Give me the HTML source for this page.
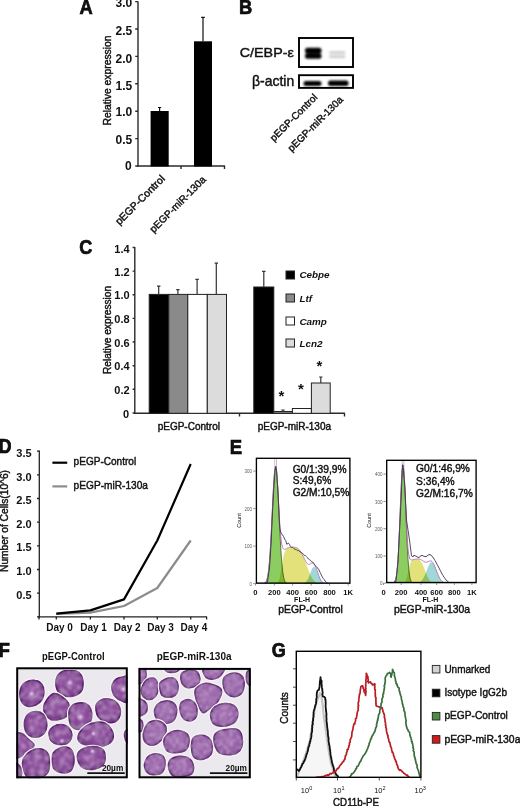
<!DOCTYPE html>
<html><head><meta charset="utf-8">
<style>
html,body{margin:0;padding:0;background:#fff;}
body{width:520px;height:806px;overflow:hidden;}
svg{display:block;font-family:"Liberation Sans",sans-serif;}
.t{font-family:"Liberation Sans",sans-serif;fill:#111;}
.r{stroke:#111;stroke-width:0.42px;}
.b{stroke:#000;stroke-width:0.7px;}
</style></head>
<body>
<svg width="520" height="806" viewBox="0 0 520 806">
<defs>
<filter id="blur1" x="-20%" y="-50%" width="140%" height="200%"><feGaussianBlur stdDeviation="0.9"/></filter>
<filter id="blur2" x="-20%" y="-50%" width="140%" height="200%"><feGaussianBlur stdDeviation="1.3"/></filter>
</defs>
<rect width="520" height="806" fill="#fff"/>

<!-- ================= PANEL A ================= -->
<g id="A">
<text class="t b" font-size="20.8" font-weight="bold" transform="translate(79.6 13.8) scale(0.88 1)">A</text>
<g stroke="#2a2a2a" stroke-width="1.4" fill="none">
<line x1="138" y1="1.5" x2="138" y2="166.7"/>
<line x1="137.3" y1="166" x2="225" y2="166"/>
<path d="M135.2 1.6H138M135.2 29H138M135.2 56.4H138M135.2 83.8H138M135.2 111.2H138M135.2 138.6H138M135.2 166H138"/>
<path d="M181 166V169M224.5 166V169"/>
</g>
<g class="t" font-size="12" font-weight="bold" text-anchor="end">
<text x="132.3" y="7">3.0</text>
<text x="132.3" y="34.5">2.5</text>
<text x="132.3" y="62.5">2.0</text>
<text x="132.3" y="89.5">1.5</text>
<text x="132.3" y="115.8">1.0</text>
<text x="132.3" y="143.8">0.5</text>
<text x="131.6" y="169.6">0</text>
</g>
<text class="t r" font-size="10.5" text-anchor="middle" transform="translate(111.3 80.5) rotate(-90)" textLength="90" lengthAdjust="spacingAndGlyphs">Relative expression</text>
<rect x="150.6" y="111" width="18.1" height="55.5" fill="#000"/>
<rect x="194" y="41.3" width="18" height="125.2" fill="#000"/>
<g stroke="#111" stroke-width="1.2">
<path d="M159.6 111V107.5M158 107.5H161.2"/>
<path d="M203 41.3V17.3M201.2 17.3H204.8"/>
</g>
<text class="t r" font-size="10.5" text-anchor="end" transform="translate(165.6 179.4) rotate(-45)">pEGP-Control</text>
<text class="t r" font-size="10.2" text-anchor="end" transform="translate(206.6 180.3) rotate(-45)">pEGP-miR-130a</text>
</g>

<!-- ================= PANEL B ================= -->
<g id="B">
<text class="t b" font-size="20.8" font-weight="bold" transform="translate(238.9 13.8) scale(0.88 1)">B</text>
<text class="t r" x="293.8" y="57.2" font-size="13" text-anchor="end" textLength="54" lengthAdjust="spacingAndGlyphs">C/EBP-ε</text>
<text class="t r" x="294.2" y="85.6" font-size="14.3" text-anchor="end" textLength="42.2" lengthAdjust="spacingAndGlyphs">β-actin</text>
<rect x="299" y="38" width="54" height="29" fill="#fff" stroke="#000" stroke-width="1.9"/>
<rect x="299" y="75.2" width="54" height="12.7" fill="#fff" stroke="#000" stroke-width="1.9"/>
<g filter="url(#blur1)">
<rect x="305" y="47.8" width="16.5" height="5.6" rx="2.5" fill="#000"/>
<rect x="305" y="53.2" width="16.5" height="5.6" rx="2.5" fill="#000"/>
<rect x="329" y="51" width="16.5" height="3" rx="1.5" fill="#d2d2d2"/>
<rect x="329" y="55" width="16.5" height="3.2" rx="1.5" fill="#d2d2d2"/>
<rect x="303.5" y="81" width="18" height="5" rx="2.5" fill="#000"/>
<rect x="328" y="80.5" width="20.5" height="5.5" rx="2.5" fill="#000"/>
</g>
<text class="t r" font-size="10" text-anchor="end" transform="translate(318 98) rotate(-45)">pEGP-Control</text>
<text class="t r" font-size="10" text-anchor="end" transform="translate(343.6 100.4) rotate(-45)">pEGP-miR-130a</text>
</g>

<!-- ================= PANEL C ================= -->
<g id="C">
<text class="t b" font-size="20.5" font-weight="bold" transform="translate(79.3 254.3) scale(0.88 1)">C</text>
<g stroke="#2a2a2a" stroke-width="1.4" fill="none">
<line x1="134.8" y1="247" x2="134.8" y2="414"/>
<line x1="134" y1="413.3" x2="345" y2="413.3"/>
<path d="M132.6 247.5H134.8M132.6 271.1H134.8M132.6 294.8H134.8M132.6 318.4H134.8M132.6 342H134.8M132.6 365.7H134.8M132.6 389.3H134.8M132.6 413H134.8"/>
<path d="M239.5 413.3V416.5M344.5 413.3V416.5"/>
</g>
<g class="t" font-size="11" font-weight="bold" text-anchor="end">
<text x="129.6" y="253">1.4</text>
<text x="129.6" y="275.7">1.2</text>
<text x="129.6" y="299.4">1.0</text>
<text x="129.6" y="323">0.8</text>
<text x="129.6" y="346.6">0.6</text>
<text x="129.6" y="370.3">0.4</text>
<text x="129.6" y="393.9">0.2</text>
<text x="129" y="417.6">0</text>
</g>
<text class="t r" font-size="10.2" text-anchor="middle" transform="translate(110.6 330) rotate(-90)" textLength="88" lengthAdjust="spacingAndGlyphs">Relative expression</text>
<g stroke="#222" stroke-width="1">
<rect x="149.2" y="294.4" width="19.6" height="118.9" fill="#000"/>
<rect x="168.8" y="294.4" width="19" height="118.9" fill="#8a8a8a"/>
<rect x="187.8" y="294.4" width="19.5" height="118.9" fill="#fff"/>
<rect x="207.3" y="294.4" width="19.2" height="118.9" fill="#dcdcdc"/>
<rect x="253.8" y="287" width="20" height="126.3" fill="#000"/>
<rect x="273.8" y="411.5" width="18.6" height="1.8" fill="#8a8a8a"/>
<rect x="292.4" y="408.5" width="19" height="4.8" fill="#fff"/>
<rect x="311.4" y="383" width="18.8" height="30.3" fill="#dcdcdc"/>
</g>
<g stroke="#333" stroke-width="1.2">
<path d="M158.7 294.4V286.2M157 286.2H160.4"/>
<path d="M177.9 294.4V289.6M176.2 289.6H179.6"/>
<path d="M197.1 294.4V279.4M195.4 279.4H198.8"/>
<path d="M216.3 294.4V263.1M214.6 263.1H218"/>
<path d="M263.8 287V271.3M262.1 271.3H265.5"/>
<path d="M283 411.5V410M281.3 410H284.7"/>
<path d="M320.8 383V377M319.1 377H322.5"/>
</g>
<g class="t" font-size="15" font-weight="bold" text-anchor="middle">
<text x="281.3" y="400.5">*</text>
<text x="300.8" y="394.2">*</text>
<text x="319.5" y="371.2">*</text>
</g>
<g stroke="#222" stroke-width="1">
<rect x="286" y="271" width="8.5" height="8" fill="#000"/>
<rect x="286" y="294" width="8.5" height="8" fill="#8a8a8a"/>
<rect x="286" y="317" width="8.5" height="8" fill="#fff"/>
<rect x="286" y="339" width="8.5" height="8" fill="#dcdcdc"/>
</g>
<g class="t" font-size="9.9" font-weight="bold" font-style="italic">
<text x="299.4" y="278.3">Cebpe</text>
<text x="299.4" y="301.6">Ltf</text>
<text x="299.4" y="324.6">Camp</text>
<text x="299.4" y="346.6">Lcn2</text>
</g>
<g class="t r" font-size="10">
<text x="157.7" y="430">pEGP-Control</text>
<text x="257.7" y="430">pEGP-miR-130a</text>
</g>
</g>

<defs>
<radialGradient id="cellg" cx="50%" cy="45%" r="62%">
<stop offset="0" stop-color="#9657a4"/>
<stop offset="0.65" stop-color="#854596"/>
<stop offset="1" stop-color="#6a2f80"/>
</radialGradient>
<radialGradient id="cellg2" cx="50%" cy="45%" r="62%">
<stop offset="0" stop-color="#a26cb0"/>
<stop offset="0.65" stop-color="#935aa5"/>
<stop offset="1" stop-color="#733d8a"/>
</radialGradient>
<radialGradient id="nuc">
<stop offset="0" stop-color="#ead6ee" stop-opacity="0.95"/>
<stop offset="0.45" stop-color="#d2b0da" stop-opacity="0.6"/>
<stop offset="1" stop-color="#b888c4" stop-opacity="0"/>
</radialGradient>
<filter id="mottle" x="0" y="0" width="100%" height="100%">
<feTurbulence type="fractalNoise" baseFrequency="0.2" numOctaves="3" seed="5" result="n"/>
<feColorMatrix in="n" type="matrix" values="0 0 0 0 0.80  0 0 0 0 0.62  0 0 0 0 0.84  1.05 0 0 0 -0.46" result="spots"/>
<feGaussianBlur in="spots" stdDeviation="0.9" result="spb"/>
<feComposite in="spb" in2="SourceGraphic" operator="in" result="sp"/>
<feMerge><feMergeNode in="SourceGraphic"/><feMergeNode in="sp"/></feMerge>
</filter>
<filter id="mottle2" x="0" y="0" width="100%" height="100%">
<feTurbulence type="fractalNoise" baseFrequency="0.3" numOctaves="3" seed="9" result="n"/>
<feColorMatrix in="n" type="matrix" values="0 0 0 0 0.82  0 0 0 0 0.66  0 0 0 0 0.86  1.2 0 0 0 -0.52" result="spots"/>
<feGaussianBlur in="spots" stdDeviation="0.8" result="spb"/>
<feComposite in="spb" in2="SourceGraphic" operator="in" result="sp"/>
<feMerge><feMergeNode in="SourceGraphic"/><feMergeNode in="sp"/></feMerge>
</filter>
</defs>
<!-- ================= PANEL D ================= -->
<g id="D">
<text class="t b" font-size="20.1" font-weight="bold" transform="translate(-1.5 452.6) scale(0.9 1)">D</text>
<g stroke="#222" stroke-width="1.3" fill="none">
<line x1="39.3" y1="450.4" x2="39.3" y2="617.4"/>
<line x1="38.6" y1="616.8" x2="207" y2="616.8"/>
<path d="M37 451.2H39.3M37 474.9H39.3M37 498.5H39.3M37 522.2H39.3M37 545.8H39.3M37 569.5H39.3M37 593.2H39.3M37 616.8H39.3"/>
<path d="M39 616.8V619.6M56.3 616.8V619.6M90.4 616.8V619.6M124 616.8V619.6M157.3 616.8V619.6M190.7 616.8V619.6M206.6 616.8V619.6"/>
</g>
<g class="t" font-size="11" font-weight="bold" text-anchor="end">
<text x="31.6" y="456.8">3.5</text>
<text x="31.6" y="480.5">3.0</text>
<text x="31.6" y="504.1">2.5</text>
<text x="31.6" y="527.8">2.0</text>
<text x="31.6" y="551.4">1.5</text>
<text x="31.6" y="575.1">1.0</text>
<text x="31.6" y="598.8">0.5</text>
</g>
<g class="t" font-size="10" font-weight="bold" text-anchor="middle">
<text x="59.5" y="631.2">Day 0</text>
<text x="93.6" y="631.2">Day 1</text>
<text x="127.2" y="631.2">Day 2</text>
<text x="160.5" y="631.2">Day 3</text>
<text x="193.9" y="631.2">Day 4</text>
</g>
<text class="t r" font-size="10.3" text-anchor="middle" transform="translate(8.3 521) rotate(-90)" textLength="102" lengthAdjust="spacingAndGlyphs">Number of Cells(10^6)</text>
<path d="M56.3 614L90.4 612.6 124 606 157.3 588 190.7 540.5" fill="none" stroke="#8c8c8c" stroke-width="2.2" stroke-linejoin="round"/>
<path d="M56.3 613.6L90.4 610.4 124 599.4 157.3 540.5 190.7 464" fill="none" stroke="#000" stroke-width="2.2" stroke-linejoin="round"/>
<line x1="52.4" y1="462.7" x2="67.2" y2="462.7" stroke="#000" stroke-width="2.2"/>
<line x1="52.4" y1="486.4" x2="67.2" y2="486.4" stroke="#8c8c8c" stroke-width="2.2"/>
<g class="t r" font-size="10.6">
<text x="73.6" y="465.3" textLength="62.6" lengthAdjust="spacingAndGlyphs">pEGP-Control</text>
<text x="73.6" y="489.1" textLength="74.4" lengthAdjust="spacingAndGlyphs">pEGP-miR-130a</text>
</g>
</g>
<!-- ================= PANEL E ================= -->
<g id="E">
<text class="t b" font-size="20.8" font-weight="bold" transform="translate(229.7 453.5) scale(0.89 1)">E</text>
<g>
<clipPath id="cp255"><rect x="255.7" y="457.6" width="94.9" height="126.2"/></clipPath>
<g clip-path="url(#cp255)">
<path d="M255.7 583.8L255.7 583.8 256.2 583.8 256.7 583.8 257.2 583.8 257.7 583.8 258.2 583.8 258.7 583.8 259.2 583.8 259.7 583.8 260.2 583.8 260.7 583.8 261.2 583.8 261.7 583.8 262.2 583.8 262.7 583.8 263.2 583.8 263.7 583.8 264.2 583.8 264.7 583.8 265.2 583.8 265.7 583.8 266.2 583.8 266.7 583.8 267.2 583.8 267.7 583.8 268.2 583.8 268.7 583.8 269.2 583.8 269.7 583.8 270.2 583.8 270.7 583.8 271.2 583.8 271.7 583.8 272.2 583.8 272.7 583.8 273.2 583.8 273.7 583.8 274.2 583.8 274.7 583.7 275.2 583.7 275.7 583.6 276.2 583.5 276.7 583.4 277.2 583.1 277.7 582.7 278.2 582.1 278.7 581.2 279.2 579.8 279.7 578 280.2 575.6 280.7 572.7 281.2 569.4 281.7 566.1 282.2 562.8 282.7 559.9 283.2 557.4 283.7 555.4 284.2 553.7 284.7 552.3 285.2 551.2 285.7 550.3 286.2 549.6 286.7 549.1 287.2 548.6 287.7 548.2 288.2 547.9 288.7 547.7 289.2 547.5 289.7 547.4 290.2 547.3 290.7 547.3 291.2 547.2 291.7 547.2 292.2 547.2 292.7 547.2 293.2 547.2 293.7 547.2 294.2 547.2 294.7 547.3 295.2 547.4 295.7 547.5 296.2 547.6 296.7 547.9 297.2 548.1 297.7 548.4 298.2 548.8 298.7 549.3 299.2 549.8 299.7 550.4 300.2 551.1 300.7 551.8 301.2 552.6 301.7 553.5 302.2 554.5 302.7 555.6 303.2 556.7 303.7 557.8 304.2 559 304.7 560.3 305.2 561.6 305.7 562.9 306.2 564.3 306.7 565.6 307.2 566.9 307.7 568.3 308.2 569.6 308.7 570.8 309.2 572.1 309.7 573.2 310.2 574.3 310.7 575.4 311.2 576.4 311.7 577.3 312.2 578.1 312.7 578.9 313.2 579.6 313.7 580.2 314.2 580.8 314.7 581.3 315.2 581.7 315.7 582.1 316.2 582.4 316.7 582.6 317.2 582.9 317.7 583.1 318.2 583.2 318.7 583.3 319.2 583.4 319.7 583.5 320.2 583.6 320.7 583.6 321.2 583.7 321.7 583.7 322.2 583.7 322.7 583.8 323.2 583.8 323.7 583.8 324.2 583.8 324.7 583.8 325.2 583.8 325.7 583.8 326.2 583.8 326.7 583.8 327.2 583.8 327.7 583.8 328.2 583.8 328.7 583.8 329.2 583.8 329.7 583.8 330.2 583.8 330.7 583.8 331.2 583.8 331.7 583.8 332.2 583.8 332.7 583.8 333.2 583.8 333.7 583.8 334.2 583.8 334.7 583.8 335.2 583.8 335.7 583.8 336.2 583.8 336.7 583.8 337.2 583.8 337.7 583.8 338.2 583.8 338.7 583.8 339.2 583.8 339.7 583.8 340.2 583.8 340.7 583.8 341.2 583.8 341.7 583.8 342.2 583.8 342.7 583.8 343.2 583.8 343.7 583.8 344.2 583.8 344.7 583.8 345.2 583.8 345.7 583.8 346.2 583.8 346.7 583.8 347.2 583.8 347.7 583.8 348.2 583.8 348.7 583.8 349.2 583.8 349.7 583.8 350.2 583.8 350.2 583.8Z" fill="#e3e27a" style="mix-blend-mode:multiply"/>
<path d="M255.7 583.8L255.7 583.8 256.2 583.8 256.7 583.8 257.2 583.8 257.7 583.8 258.2 583.8 258.7 583.8 259.2 583.8 259.7 583.8 260.2 583.8 260.7 583.8 261.2 583.8 261.7 583.8 262.2 583.8 262.7 583.8 263.2 583.8 263.7 583.8 264.2 583.8 264.7 583.8 265.2 583.8 265.7 583.8 266.2 583.8 266.7 583.8 267.2 583.8 267.7 583.8 268.2 583.8 268.7 583.8 269.2 583.8 269.7 583.8 270.2 583.8 270.7 583.8 271.2 583.8 271.7 583.8 272.2 583.8 272.7 583.8 273.2 583.8 273.7 583.8 274.2 583.8 274.7 583.8 275.2 583.8 275.7 583.8 276.2 583.8 276.7 583.8 277.2 583.8 277.7 583.8 278.2 583.8 278.7 583.8 279.2 583.8 279.7 583.8 280.2 583.8 280.7 583.8 281.2 583.8 281.7 583.8 282.2 583.8 282.7 583.8 283.2 583.8 283.7 583.8 284.2 583.8 284.7 583.8 285.2 583.8 285.7 583.8 286.2 583.8 286.7 583.8 287.2 583.8 287.7 583.8 288.2 583.8 288.7 583.8 289.2 583.8 289.7 583.8 290.2 583.8 290.7 583.8 291.2 583.8 291.7 583.8 292.2 583.8 292.7 583.8 293.2 583.8 293.7 583.8 294.2 583.8 294.7 583.8 295.2 583.8 295.7 583.8 296.2 583.8 296.7 583.8 297.2 583.8 297.7 583.8 298.2 583.8 298.7 583.8 299.2 583.8 299.7 583.8 300.2 583.8 300.7 583.8 301.2 583.7 301.7 583.7 302.2 583.7 302.7 583.6 303.2 583.5 303.7 583.4 304.2 583.2 304.7 582.9 305.2 582.6 305.7 582.2 306.2 581.7 306.7 581.1 307.2 580.4 307.7 579.5 308.2 578.5 308.7 577.4 309.2 576.1 309.7 574.8 310.2 573.5 310.7 572.1 311.2 570.8 311.7 569.6 312.2 568.6 312.7 567.8 313.2 567.2 313.7 566.9 314.2 566.8 314.7 567.1 315.2 567.6 315.7 568.4 316.2 569.4 316.7 570.6 317.2 571.9 317.7 573.2 318.2 574.6 318.7 575.9 319.2 577.1 319.7 578.3 320.2 579.3 320.7 580.2 321.2 581 321.7 581.6 322.2 582.1 322.7 582.6 323.2 582.9 323.7 583.1 324.2 583.3 324.7 583.5 325.2 583.6 325.7 583.7 326.2 583.7 326.7 583.7 327.2 583.8 327.7 583.8 328.2 583.8 328.7 583.8 329.2 583.8 329.7 583.8 330.2 583.8 330.7 583.8 331.2 583.8 331.7 583.8 332.2 583.8 332.7 583.8 333.2 583.8 333.7 583.8 334.2 583.8 334.7 583.8 335.2 583.8 335.7 583.8 336.2 583.8 336.7 583.8 337.2 583.8 337.7 583.8 338.2 583.8 338.7 583.8 339.2 583.8 339.7 583.8 340.2 583.8 340.7 583.8 341.2 583.8 341.7 583.8 342.2 583.8 342.7 583.8 343.2 583.8 343.7 583.8 344.2 583.8 344.7 583.8 345.2 583.8 345.7 583.8 346.2 583.8 346.7 583.8 347.2 583.8 347.7 583.8 348.2 583.8 348.7 583.8 349.2 583.8 349.7 583.8 350.2 583.8 350.2 583.8Z" fill="#9fd8d6" style="mix-blend-mode:multiply"/>
<path d="M255.7 583.8L255.7 583.8 256.2 583.8 256.7 583.8 257.2 583.8 257.7 583.8 258.2 583.8 258.7 583.8 259.2 583.8 259.7 583.8 260.2 583.8 260.7 583.8 261.2 583.8 261.7 583.8 262.2 583.8 262.7 583.7 263.2 583.7 263.7 583.6 264.2 583.4 264.7 583.2 265.2 582.9 265.7 582.3 266.2 581.5 266.7 580.4 267.2 578.8 267.7 576.5 268.2 573.6 268.7 569.8 269.2 564.9 269.7 559 270.2 551.9 270.7 543.7 271.2 534.4 271.7 524.4 272.2 513.9 272.7 503.4 273.2 493.3 273.7 484.2 274.2 476.6 274.7 470.9 275.2 467.6 275.7 466.9 276.2 468.7 276.7 472.9 277.2 479.4 277.7 487.7 278.2 497.2 278.7 507.6 279.2 518.1 279.7 528.5 280.2 538.2 280.7 547.1 281.2 554.9 281.7 561.5 282.2 567 282.7 571.4 283.2 574.9 283.7 577.5 284.2 579.5 284.7 580.9 285.2 581.9 285.7 582.6 286.2 583 286.7 583.3 287.2 583.5 287.7 583.6 288.2 583.7 288.7 583.7 289.2 583.8 289.7 583.8 290.2 583.8 290.7 583.8 291.2 583.8 291.7 583.8 292.2 583.8 292.7 583.8 293.2 583.8 293.7 583.8 294.2 583.8 294.7 583.8 295.2 583.8 295.7 583.8 296.2 583.8 296.7 583.8 297.2 583.8 297.7 583.8 298.2 583.8 298.7 583.8 299.2 583.8 299.7 583.8 300.2 583.8 300.7 583.8 301.2 583.8 301.7 583.8 302.2 583.8 302.7 583.8 303.2 583.8 303.7 583.8 304.2 583.8 304.7 583.8 305.2 583.8 305.7 583.8 306.2 583.8 306.7 583.8 307.2 583.8 307.7 583.8 308.2 583.8 308.7 583.8 309.2 583.8 309.7 583.8 310.2 583.8 310.7 583.8 311.2 583.8 311.7 583.8 312.2 583.8 312.7 583.8 313.2 583.8 313.7 583.8 314.2 583.8 314.7 583.8 315.2 583.8 315.7 583.8 316.2 583.8 316.7 583.8 317.2 583.8 317.7 583.8 318.2 583.8 318.7 583.8 319.2 583.8 319.7 583.8 320.2 583.8 320.7 583.8 321.2 583.8 321.7 583.8 322.2 583.8 322.7 583.8 323.2 583.8 323.7 583.8 324.2 583.8 324.7 583.8 325.2 583.8 325.7 583.8 326.2 583.8 326.7 583.8 327.2 583.8 327.7 583.8 328.2 583.8 328.7 583.8 329.2 583.8 329.7 583.8 330.2 583.8 330.7 583.8 331.2 583.8 331.7 583.8 332.2 583.8 332.7 583.8 333.2 583.8 333.7 583.8 334.2 583.8 334.7 583.8 335.2 583.8 335.7 583.8 336.2 583.8 336.7 583.8 337.2 583.8 337.7 583.8 338.2 583.8 338.7 583.8 339.2 583.8 339.7 583.8 340.2 583.8 340.7 583.8 341.2 583.8 341.7 583.8 342.2 583.8 342.7 583.8 343.2 583.8 343.7 583.8 344.2 583.8 344.7 583.8 345.2 583.8 345.7 583.8 346.2 583.8 346.7 583.8 347.2 583.8 347.7 583.8 348.2 583.8 348.7 583.8 349.2 583.8 349.7 583.8 350.2 583.8 350.2 583.8Z" fill="#8ccd62" stroke="#3d5a2a" stroke-width="0.8" style="mix-blend-mode:multiply"/>
<path d="M255.7 583.5L256.2 583.5 256.7 583.5 257.2 583.5 257.7 583.5 258.2 583.5 258.7 583.5 259.2 583.5 259.7 583.5 260.2 583.5 260.7 583.5 261.2 583.5 261.7 583.5 262.2 583.5 262.7 583.5 263.2 583.5 263.7 583.5 264.2 583.4 264.7 583.2 265.2 582.9 265.7 582.3 266.2 581.5 266.7 580.4 267.2 578.8 267.7 576.5 268.2 573.6 268.7 569.8 269.2 564.9 269.7 559 270.2 551.9 270.7 543.7 271.2 534.4 271.7 524.4 272.2 513.9 272.7 503.4 273.2 493.3 273.7 484.2 274.2 476.6 274.7 470.9 275.2 467.5 275.7 466.7 276.2 468.4 276.7 472.5 277.2 478.7 277.7 486.6 278.2 495.5 278.7 504.9 279.2 514.2 279.7 522.7 280.2 530 280.7 536 281.2 540.5 281.7 543.8 282.2 546 282.7 547.5 283.2 548.5 283.7 549.1 284.2 549.3 284.7 549.4 285.2 549.3 285.7 549.1 286.2 548.8 286.7 548.6 287.2 548.3 287.7 548.1 288.2 547.8 288.7 547.6 289.2 547.5 289.7 547.4 290.2 547.3 290.7 547.3 291.2 547.2 291.7 547.2 292.2 547.2 292.7 547.2 293.2 547.2 293.7 547.2 294.2 547.2 294.7 547.3 295.2 547.4 295.7 547.5 296.2 547.6 296.7 547.9 297.2 548.1 297.7 548.4 298.2 548.8 298.7 549.3 299.2 549.8 299.7 550.4 300.2 551 300.7 551.8 301.2 552.6 301.7 553.4 302.2 554.4 302.7 555.3 303.2 556.4 303.7 557.4 304.2 558.4 304.7 559.5 305.2 560.4 305.7 561.4 306.2 562.2 306.7 562.9 307.2 563.5 307.7 564 308.2 564.3 308.7 564.4 309.2 564.4 309.7 564.3 310.2 564 310.7 563.7 311.2 563.4 311.7 563.1 312.2 562.9 312.7 562.9 313.2 563 313.7 563.3 314.2 563.8 314.7 564.6 315.2 565.5 315.7 566.7 316.2 568 316.7 569.4 317.2 571 317.7 572.5 318.2 574 318.7 575.4 319.2 576.8 319.7 578 320.2 579.1 320.7 580.1 321.2 580.9 321.7 581.5 322.2 582.1 322.7 582.5 323.2 582.9 323.7 583.1 324.2 583.3 324.7 583.5 325.2 583.5 325.7 583.5 326.2 583.5 326.7 583.5 327.2 583.5 327.7 583.5 328.2 583.5 328.7 583.5 329.2 583.5 329.7 583.5 330.2 583.5 330.7 583.5 331.2 583.5 331.7 583.5 332.2 583.5 332.7 583.5 333.2 583.5 333.7 583.5 334.2 583.5 334.7 583.5 335.2 583.5 335.7 583.5 336.2 583.5 336.7 583.5 337.2 583.5 337.7 583.5 338.2 583.5 338.7 583.5 339.2 583.5 339.7 583.5 340.2 583.5 340.7 583.5 341.2 583.5 341.7 583.5 342.2 583.5 342.7 583.5 343.2 583.5 343.7 583.5 344.2 583.5 344.7 583.5 345.2 583.5 345.7 583.5 346.2 583.5 346.7 583.5 347.2 583.5 347.7 583.5 348.2 583.5 348.7 583.5 349.2 583.5 349.7 583.5 350.2 583.5" fill="none" stroke="#b46ab4" stroke-width="0.9"/>
<path d="M274.7 457.6V468.8M276.5 457.6V468.8" stroke="#c8a4bc" stroke-width="0.8"/>
<path d="M265 583.6L265.8 583.1 266.7 582.5 267.5 582 268.5 575 269.5 568 271 545 272.5 512 274 485 275 470.8 275.7 466.3 276.5 470 278 492 279.3 520 279.8 528.2 280.3 531.1 281.4 533.3 282.4 534.9 283.5 536.4 284.6 539 285.7 540.6 286.8 544.3 288.3 543.1 289.5 544.5 290.5 546.4 291.4 547.4 292.3 547.2 293.2 547.8 294 548.7 294.9 549.4 295.7 549.5 296.5 549.7 297.6 550.8 298.6 550.4 299.7 551.8 300.8 552.1 301.8 552.8 302.9 553.7 303.7 554.4 304.5 555.5 305.3 555.4 306.1 556.3 306.9 557.3 307.8 558 308.6 559.1 309.4 559.6 310.2 560.1 311 560.8 311.8 561.8 312.6 562 313.5 563.2 314.4 564.7 315.3 565.9 316.2 566.4 317.1 567.7 318 568.3 319.1 570 320.1 572.5 321.2 574.6 322.3 577.1 323.2 578.4 324.1 579.4 325 581 326.1 582 327.1 583.1 328.1 583.3 329 583.4 330 583.6" fill="none" stroke="#3a3a4a" stroke-width="0.9"/>
</g>
<rect x="256.4" y="458.3" width="93.5" height="124.8" fill="none" stroke="#000" stroke-width="1.35"/>
<g stroke="#444" stroke-width="0.6"><line x1="253.2" y1="471.1" x2="255.7" y2="471.1"/><line x1="253.2" y1="508.6" x2="255.7" y2="508.6"/><line x1="253.2" y1="546.1" x2="255.7" y2="546.1"/><line x1="253.2" y1="583.6" x2="255.7" y2="583.6"/></g>
<g class="t" font-size="6" fill="#555" text-anchor="end"><text x="252.1" y="473.2" fill="#5a5a5a" textLength="7.5" lengthAdjust="spacingAndGlyphs">300</text><text x="252.1" y="510.7" fill="#5a5a5a" textLength="7.5" lengthAdjust="spacingAndGlyphs">200</text><text x="252.1" y="548.2" fill="#5a5a5a" textLength="7.5" lengthAdjust="spacingAndGlyphs">100</text><text x="252.1" y="585.7" fill="#5a5a5a" textLength="2.5" lengthAdjust="spacingAndGlyphs">0</text></g>
<text class="t" font-size="5.5" fill="#666" text-anchor="middle" transform="translate(240.6 520.5) rotate(-90)">Count</text>
<g class="t" font-size="7.6" font-weight="bold" text-anchor="middle"><text x="255.4" y="595.4">0</text><text x="274.3" y="595.4">200</text><text x="292.6" y="595.4">400</text><text x="311.2" y="595.4">600</text><text x="329.5" y="595.4">800</text><text x="348.2" y="595.4">1K</text></g>
<g stroke="#444" stroke-width="0.6"><line x1="255.4" y1="583.8" x2="255.4" y2="585.6"/><line x1="274.3" y1="583.8" x2="274.3" y2="585.6"/><line x1="292.6" y1="583.8" x2="292.6" y2="585.6"/><line x1="311.2" y1="583.8" x2="311.2" y2="585.6"/><line x1="329.5" y1="583.8" x2="329.5" y2="585.6"/><line x1="348.2" y1="583.8" x2="348.2" y2="585.6"/></g>
<text class="t" font-size="7" font-weight="bold" text-anchor="middle" x="302.1" y="601.6">FL-H</text>
<g class="t r" font-size="10.2"><text x="292.7" y="472.5">G0/1:39,9%</text><text x="292.7" y="484.2">S:49,6%</text><text x="292.7" y="496.1">G2/M:10,5%</text></g>
<text class="t r" font-size="10.4" text-anchor="middle" x="310.6" y="613">pEGP-Control</text>
</g>
<g>
<clipPath id="cp386"><rect x="386" y="459.6" width="90.8" height="123.6"/></clipPath>
<g clip-path="url(#cp386)">
<path d="M386 583.2L386 583.2 386.5 583.2 387 583.2 387.5 583.2 388 583.2 388.5 583.2 389 583.2 389.5 583.2 390 583.2 390.5 583.2 391 583.2 391.5 583.2 392 583.2 392.5 583.2 393 583.2 393.5 583.2 394 583.2 394.5 583.2 395 583.2 395.5 583.2 396 583.2 396.5 583.2 397 583.2 397.5 583.2 398 583.2 398.5 583.2 399 583.2 399.5 583.2 400 583.2 400.5 583.2 401 583.2 401.5 583.2 402 583.2 402.5 583.1 403 583 403.5 582.9 404 582.7 404.5 582.4 405 582 405.5 581.2 406 580.2 406.5 578.8 407 576.9 407.5 574.8 408 572.4 408.5 570.1 409 567.9 409.5 566 410 564.4 410.5 563.1 411 562 411.5 561.2 412 560.6 412.5 560.1 413 559.8 413.5 559.6 414 559.4 414.5 559.3 415 559.3 415.5 559.2 416 559.2 416.5 559.2 417 559.2 417.5 559.3 418 559.4 418.5 559.5 419 559.8 419.5 560.1 420 560.5 420.5 561 421 561.7 421.5 562.4 422 563.3 422.5 564.3 423 565.4 423.5 566.5 424 567.8 424.5 569.1 425 570.4 425.5 571.8 426 573.1 426.5 574.4 427 575.6 427.5 576.7 428 577.8 428.5 578.8 429 579.6 429.5 580.3 430 581 430.5 581.5 431 581.9 431.5 582.2 432 582.5 432.5 582.7 433 582.9 433.5 583 434 583 434.5 583.1 435 583.1 435.5 583.2 436 583.2 436.5 583.2 437 583.2 437.5 583.2 438 583.2 438.5 583.2 439 583.2 439.5 583.2 440 583.2 440.5 583.2 441 583.2 441.5 583.2 442 583.2 442.5 583.2 443 583.2 443.5 583.2 444 583.2 444.5 583.2 445 583.2 445.5 583.2 446 583.2 446.5 583.2 447 583.2 447.5 583.2 448 583.2 448.5 583.2 449 583.2 449.5 583.2 450 583.2 450.5 583.2 451 583.2 451.5 583.2 452 583.2 452.5 583.2 453 583.2 453.5 583.2 454 583.2 454.5 583.2 455 583.2 455.5 583.2 456 583.2 456.5 583.2 457 583.2 457.5 583.2 458 583.2 458.5 583.2 459 583.2 459.5 583.2 460 583.2 460.5 583.2 461 583.2 461.5 583.2 462 583.2 462.5 583.2 463 583.2 463.5 583.2 464 583.2 464.5 583.2 465 583.2 465.5 583.2 466 583.2 466.5 583.2 467 583.2 467.5 583.2 468 583.2 468.5 583.2 469 583.2 469.5 583.2 470 583.2 470.5 583.2 471 583.2 471.5 583.2 472 583.2 472.5 583.2 473 583.2 473.5 583.2 474 583.2 474.5 583.2 475 583.2 475.5 583.2 476 583.2 476.5 583.2 476.5 583.2Z" fill="#e3e27a" style="mix-blend-mode:multiply"/>
<path d="M386 583.2L386 583.2 386.5 583.2 387 583.2 387.5 583.2 388 583.2 388.5 583.2 389 583.2 389.5 583.2 390 583.2 390.5 583.2 391 583.2 391.5 583.2 392 583.2 392.5 583.2 393 583.2 393.5 583.2 394 583.2 394.5 583.2 395 583.2 395.5 583.2 396 583.2 396.5 583.2 397 583.2 397.5 583.2 398 583.2 398.5 583.2 399 583.2 399.5 583.2 400 583.2 400.5 583.2 401 583.2 401.5 583.2 402 583.2 402.5 583.2 403 583.2 403.5 583.2 404 583.2 404.5 583.2 405 583.2 405.5 583.2 406 583.2 406.5 583.2 407 583.2 407.5 583.2 408 583.2 408.5 583.2 409 583.2 409.5 583.2 410 583.2 410.5 583.2 411 583.2 411.5 583.2 412 583.2 412.5 583.2 413 583.2 413.5 583.2 414 583.2 414.5 583.2 415 583.1 415.5 583.1 416 583.1 416.5 583 417 583 417.5 582.9 418 582.8 418.5 582.7 419 582.5 419.5 582.3 420 582 420.5 581.7 421 581.3 421.5 580.8 422 580.2 422.5 579.6 423 578.8 423.5 578 424 577 424.5 575.9 425 574.8 425.5 573.6 426 572.3 426.5 571 427 569.7 427.5 568.4 428 567.1 428.5 565.9 429 564.9 429.5 563.9 430 563.2 430.5 562.7 431 562.3 431.5 562.2 432 562.3 432.5 562.7 433 563.2 433.5 563.9 434 564.9 434.5 565.9 435 567.1 435.5 568.4 436 569.7 436.5 571 437 572.3 437.5 573.6 438 574.8 438.5 575.9 439 577 439.5 578 440 578.8 440.5 579.6 441 580.2 441.5 580.8 442 581.3 442.5 581.7 443 582 443.5 582.3 444 582.5 444.5 582.7 445 582.8 445.5 582.9 446 583 446.5 583 447 583.1 447.5 583.1 448 583.1 448.5 583.2 449 583.2 449.5 583.2 450 583.2 450.5 583.2 451 583.2 451.5 583.2 452 583.2 452.5 583.2 453 583.2 453.5 583.2 454 583.2 454.5 583.2 455 583.2 455.5 583.2 456 583.2 456.5 583.2 457 583.2 457.5 583.2 458 583.2 458.5 583.2 459 583.2 459.5 583.2 460 583.2 460.5 583.2 461 583.2 461.5 583.2 462 583.2 462.5 583.2 463 583.2 463.5 583.2 464 583.2 464.5 583.2 465 583.2 465.5 583.2 466 583.2 466.5 583.2 467 583.2 467.5 583.2 468 583.2 468.5 583.2 469 583.2 469.5 583.2 470 583.2 470.5 583.2 471 583.2 471.5 583.2 472 583.2 472.5 583.2 473 583.2 473.5 583.2 474 583.2 474.5 583.2 475 583.2 475.5 583.2 476 583.2 476.5 583.2 476.5 583.2Z" fill="#9fd8d6" style="mix-blend-mode:multiply"/>
<path d="M386 583.2L386 583.2 386.5 583.2 387 583.2 387.5 583.2 388 583.2 388.5 583.2 389 583.2 389.5 583.2 390 583.2 390.5 583.2 391 583.2 391.5 583.2 392 583.1 392.5 583.1 393 583 393.5 582.8 394 582.5 394.5 582 395 581.2 395.5 579.9 396 578 396.5 575.2 397 571.3 397.5 566.1 398 559.2 398.5 550.8 399 540.7 399.5 529.2 400 516.7 400.5 504 401 491.8 401.5 481 402 472.5 402.5 467.1 403 465.2 403.5 467.1 404 472.5 404.5 481 405 491.8 405.5 504 406 516.7 406.5 529.2 407 540.7 407.5 550.8 408 559.2 408.5 566.1 409 571.3 409.5 575.2 410 578 410.5 579.9 411 581.2 411.5 582 412 582.5 412.5 582.8 413 583 413.5 583.1 414 583.1 414.5 583.2 415 583.2 415.5 583.2 416 583.2 416.5 583.2 417 583.2 417.5 583.2 418 583.2 418.5 583.2 419 583.2 419.5 583.2 420 583.2 420.5 583.2 421 583.2 421.5 583.2 422 583.2 422.5 583.2 423 583.2 423.5 583.2 424 583.2 424.5 583.2 425 583.2 425.5 583.2 426 583.2 426.5 583.2 427 583.2 427.5 583.2 428 583.2 428.5 583.2 429 583.2 429.5 583.2 430 583.2 430.5 583.2 431 583.2 431.5 583.2 432 583.2 432.5 583.2 433 583.2 433.5 583.2 434 583.2 434.5 583.2 435 583.2 435.5 583.2 436 583.2 436.5 583.2 437 583.2 437.5 583.2 438 583.2 438.5 583.2 439 583.2 439.5 583.2 440 583.2 440.5 583.2 441 583.2 441.5 583.2 442 583.2 442.5 583.2 443 583.2 443.5 583.2 444 583.2 444.5 583.2 445 583.2 445.5 583.2 446 583.2 446.5 583.2 447 583.2 447.5 583.2 448 583.2 448.5 583.2 449 583.2 449.5 583.2 450 583.2 450.5 583.2 451 583.2 451.5 583.2 452 583.2 452.5 583.2 453 583.2 453.5 583.2 454 583.2 454.5 583.2 455 583.2 455.5 583.2 456 583.2 456.5 583.2 457 583.2 457.5 583.2 458 583.2 458.5 583.2 459 583.2 459.5 583.2 460 583.2 460.5 583.2 461 583.2 461.5 583.2 462 583.2 462.5 583.2 463 583.2 463.5 583.2 464 583.2 464.5 583.2 465 583.2 465.5 583.2 466 583.2 466.5 583.2 467 583.2 467.5 583.2 468 583.2 468.5 583.2 469 583.2 469.5 583.2 470 583.2 470.5 583.2 471 583.2 471.5 583.2 472 583.2 472.5 583.2 473 583.2 473.5 583.2 474 583.2 474.5 583.2 475 583.2 475.5 583.2 476 583.2 476.5 583.2 476.5 583.2Z" fill="#8ccd62" stroke="#3d5a2a" stroke-width="0.8" style="mix-blend-mode:multiply"/>
<path d="M386 582.9L386.5 582.9 387 582.9 387.5 582.9 388 582.9 388.5 582.9 389 582.9 389.5 582.9 390 582.9 390.5 582.9 391 582.9 391.5 582.9 392 582.9 392.5 582.9 393 582.9 393.5 582.8 394 582.5 394.5 582 395 581.2 395.5 579.9 396 578 396.5 575.2 397 571.3 397.5 566.1 398 559.2 398.5 550.8 399 540.7 399.5 529.2 400 516.7 400.5 504 401 491.8 401.5 480.9 402 472.4 402.5 467 403 465 403.5 466.8 404 472 404.5 480.2 405 490.5 405.5 502 406 513.7 406.5 524.7 407 534.4 407.5 542.4 408 548.5 408.5 553 409 556 409.5 558 410 559.2 410.5 559.8 411 560 411.5 560 412 559.9 412.5 559.8 413 559.6 413.5 559.5 414 559.3 414.5 559.3 415 559.2 415.5 559.1 416 559.1 416.5 559.1 417 559 417.5 559 418 559 418.5 559 419 559 419.5 559.2 420 559.3 420.5 559.5 421 559.7 421.5 560 422 560.3 422.5 560.6 423 561 423.5 561.3 424 561.6 424.5 561.8 425 562 425.5 562.1 426 562.2 426.5 562.2 427 562.1 427.5 561.9 428 561.7 428.5 561.5 429 561.3 429.5 561.1 430 561 430.5 560.9 431 561 431.5 561.2 432 561.6 432.5 562.2 433 562.9 433.5 563.7 434 564.7 434.5 565.8 435 567 435.5 568.3 436 569.6 436.5 571 437 572.3 437.5 573.6 438 574.8 438.5 575.9 439 577 439.5 578 440 578.8 440.5 579.6 441 580.2 441.5 580.8 442 581.3 442.5 581.7 443 582 443.5 582.3 444 582.5 444.5 582.7 445 582.8 445.5 582.9 446 582.9 446.5 582.9 447 582.9 447.5 582.9 448 582.9 448.5 582.9 449 582.9 449.5 582.9 450 582.9 450.5 582.9 451 582.9 451.5 582.9 452 582.9 452.5 582.9 453 582.9 453.5 582.9 454 582.9 454.5 582.9 455 582.9 455.5 582.9 456 582.9 456.5 582.9 457 582.9 457.5 582.9 458 582.9 458.5 582.9 459 582.9 459.5 582.9 460 582.9 460.5 582.9 461 582.9 461.5 582.9 462 582.9 462.5 582.9 463 582.9 463.5 582.9 464 582.9 464.5 582.9 465 582.9 465.5 582.9 466 582.9 466.5 582.9 467 582.9 467.5 582.9 468 582.9 468.5 582.9 469 582.9 469.5 582.9 470 582.9 470.5 582.9 471 582.9 471.5 582.9 472 582.9 472.5 582.9 473 582.9 473.5 582.9 474 582.9 474.5 582.9 475 582.9 475.5 582.9 476 582.9 476.5 582.9" fill="none" stroke="#b46ab4" stroke-width="0.9"/>
<path d="M402.1 459.6V467.2M403.9 459.6V467.2" stroke="#c8a4bc" stroke-width="0.8"/>
<path d="M393 583L394 582.3 395 581.7 396 581 397 571.5 398 562 399 542 400 522 401.5 490 402.2 470 402.7 464.7 403.4 470 404.2 480 405 490 406.5 520 408 530 409.5 540 410.5 548 411.5 555.9 413 557 414 555 415 555.8 416 556.2 417 556.8 418 557.3 419 557.8 420 556.3 421 555.8 422 555.3 423 555.8 424 556.4 425 556.5 426 556.7 427 556 428 555.2 429 554.6 430 554.7 431 555 432 556.5 433 557.1 434 558.9 435 560.7 436 562.2 437 564.3 438 566 439 568 440 570 441 571.9 442 574 443 575.4 444 577.1 445 578.5 446 580 447 580.8 448 581.7 449 582.5 450 582.7 451 582.8 452 583" fill="none" stroke="#3a3a4a" stroke-width="0.9"/>
</g>
<rect x="386.7" y="460.3" width="89.4" height="122.2" fill="none" stroke="#000" stroke-width="1.35"/>
<g stroke="#444" stroke-width="0.6"><line x1="383.5" y1="474.1" x2="386" y2="474.1"/><line x1="383.5" y1="501.4" x2="386" y2="501.4"/><line x1="383.5" y1="528.7" x2="386" y2="528.7"/><line x1="383.5" y1="556" x2="386" y2="556"/><line x1="383.5" y1="583.2" x2="386" y2="583.2"/></g>
<g class="t" font-size="6" fill="#555" text-anchor="end"><text x="382.4" y="476.2" fill="#5a5a5a" textLength="7.5" lengthAdjust="spacingAndGlyphs">400</text><text x="382.4" y="503.5" fill="#5a5a5a" textLength="7.5" lengthAdjust="spacingAndGlyphs">300</text><text x="382.4" y="530.8" fill="#5a5a5a" textLength="7.5" lengthAdjust="spacingAndGlyphs">200</text><text x="382.4" y="558.1" fill="#5a5a5a" textLength="7.5" lengthAdjust="spacingAndGlyphs">100</text><text x="382.4" y="585.3" fill="#5a5a5a" textLength="2.5" lengthAdjust="spacingAndGlyphs">0</text></g>
<text class="t" font-size="5.5" fill="#666" text-anchor="middle" transform="translate(371 520.5) rotate(-90)">Count</text>
<g class="t" font-size="7.6" font-weight="bold" text-anchor="middle"><text x="383.5" y="595.4">0</text><text x="401.2" y="595.4">200</text><text x="421" y="595.4">400</text><text x="436.7" y="595.4">600</text><text x="454.4" y="595.4">800</text><text x="471.9" y="595.4">1K</text></g>
<g stroke="#444" stroke-width="0.6"><line x1="383.5" y1="583.2" x2="383.5" y2="585"/><line x1="401.2" y1="583.2" x2="401.2" y2="585"/><line x1="421" y1="583.2" x2="421" y2="585"/><line x1="436.7" y1="583.2" x2="436.7" y2="585"/><line x1="454.4" y1="583.2" x2="454.4" y2="585"/><line x1="471.9" y1="583.2" x2="471.9" y2="585"/></g>
<text class="t" font-size="7" font-weight="bold" text-anchor="middle" x="430.4" y="601.6">FL-H</text>
<g class="t r" font-size="10.2"><text x="416.1" y="471.7">G0/1:46,9%</text><text x="416.1" y="484.6">S:36,4%</text><text x="416.1" y="497.1">G2/M:16,7%</text></g>
<text class="t r" font-size="10.4" text-anchor="middle" x="432" y="613">pEGP-miR-130a</text>
</g>
</g>
<!-- ================= PANEL F ================= -->
<g id="F">
<text class="t b" font-size="20.5" font-weight="bold" transform="translate(-1.55 657.2) scale(0.91 1)">F</text>
<text class="t" x="73.3" y="660" font-size="10" font-weight="bold" text-anchor="middle" textLength="62.5" lengthAdjust="spacingAndGlyphs">pEGP-Control</text>
<text class="t" x="194.1" y="660" font-size="10" font-weight="bold" text-anchor="middle" textLength="74.8" lengthAdjust="spacingAndGlyphs">pEGP-miR-130a</text>
<clipPath id="fc1"><rect x="16.2" y="667.3" width="111.6" height="111"/></clipPath>
<g clip-path="url(#fc1)">
<rect x="16.2" y="667.3" width="111.6" height="111" fill="#ebe9ee"/>
<g filter="url(#mottle)">
<g fill="#fdf5fd" stroke="#fdf5fd" stroke-width="3.8"><path d="M20.3 689.6C21 686.5 23 683.9 25.4 682.3C27.9 680.8 32 679.9 34.8 680.3C37.5 680.6 40.5 682.5 42 684.4C43.5 686.3 44 689.1 44 691.7C44 694.3 43.3 697.7 41.9 699.9C40.5 702.1 38.2 704 35.8 705.1C33.4 706.1 29.9 706.9 27.5 706.2C25.1 705.5 22.5 703.8 21.3 701C20.1 698.2 19.6 692.7 20.3 689.6Z"/></g>
<g fill="url(#cellg)" stroke="#561f66" stroke-width="1.5"><path d="M20.3 689.6C21 686.5 23 683.9 25.4 682.3C27.9 680.8 32 679.9 34.8 680.3C37.5 680.6 40.5 682.5 42 684.4C43.5 686.3 44 689.1 44 691.7C44 694.3 43.3 697.7 41.9 699.9C40.5 702.1 38.2 704 35.8 705.1C33.4 706.1 29.9 706.9 27.5 706.2C25.1 705.5 22.5 703.8 21.3 701C20.1 698.2 19.6 692.7 20.3 689.6Z"/></g>
<g fill="#fdf5fd" stroke="#fdf5fd" stroke-width="3.8"><path d="M56.8 677.5C57.8 674.6 60.2 672.5 63 671.3C65.8 670.1 70.5 669.8 73.4 670.3C76.3 670.8 79.1 672.2 80.7 674.4C82.3 676.7 83.1 680.8 83.1 683.8C83.1 686.7 82.5 690 80.7 692.1C78.9 694.2 75.3 695.7 72.4 696.2C69.4 696.7 65.6 696.4 63 695.2C60.4 694 57.8 691.9 56.8 689C55.7 686 55.7 680.5 56.8 677.5Z"/></g>
<g fill="url(#cellg)" stroke="#561f66" stroke-width="1.5"><path d="M56.8 677.5C57.8 674.6 60.2 672.5 63 671.3C65.8 670.1 70.5 669.8 73.4 670.3C76.3 670.8 79.1 672.2 80.7 674.4C82.3 676.7 83.1 680.8 83.1 683.8C83.1 686.7 82.5 690 80.7 692.1C78.9 694.2 75.3 695.7 72.4 696.2C69.4 696.7 65.6 696.4 63 695.2C60.4 694 57.8 691.9 56.8 689C55.7 686 55.7 680.5 56.8 677.5Z"/></g>
<g fill="#fdf5fd" stroke="#fdf5fd" stroke-width="3.8"><path d="M53.9 693.5C58 692.9 66.3 699.1 68.4 703C70.4 706.8 69.2 713.6 66.3 716.4C63.4 719.2 54.6 721.1 50.8 719.5C47 718 43 711.4 43.6 707.1C44.1 702.8 49.7 694.2 53.9 693.5Z"/></g>
<g fill="url(#cellg)" stroke="#561f66" stroke-width="1.5"><path d="M53.9 693.5C58 692.9 66.3 699.1 68.4 703C70.4 706.8 69.2 713.6 66.3 716.4C63.4 719.2 54.6 721.1 50.8 719.5C47 718 43 711.4 43.6 707.1C44.1 702.8 49.7 694.2 53.9 693.5Z"/></g>
<g fill="#fdf5fd" stroke="#fdf5fd" stroke-width="3.8"><path d="M69.9 708.7C71.1 706.4 73.5 704.3 76.1 703.5C78.7 702.6 83 702.6 85.4 703.4C87.8 704.3 89.5 706.2 90.6 708.6C91.6 711 92.1 715 91.6 717.9C91 720.8 89.7 724.3 87.5 726.2C85.3 728.1 80.9 729.5 78.2 729.4C75.4 729.2 72.5 727.3 70.9 725.2C69.4 723.1 69.2 719.6 69 716.9C68.8 714.1 68.8 710.9 69.9 708.7Z"/></g>
<g fill="url(#cellg)" stroke="#561f66" stroke-width="1.5"><path d="M69.9 708.7C71.1 706.4 73.5 704.3 76.1 703.5C78.7 702.6 83 702.6 85.4 703.4C87.8 704.3 89.5 706.2 90.6 708.6C91.6 711 92.1 715 91.6 717.9C91 720.8 89.7 724.3 87.5 726.2C85.3 728.1 80.9 729.5 78.2 729.4C75.4 729.2 72.5 727.3 70.9 725.2C69.4 723.1 69.2 719.6 69 716.9C68.8 714.1 68.8 710.9 69.9 708.7Z"/></g>
<g fill="#fdf5fd" stroke="#fdf5fd" stroke-width="3.8"><path d="M96.5 704.2C97.8 702.3 101 699.7 103.8 699C106.5 698.4 110.5 698.9 113 700.1C115.6 701.3 118.1 703.7 119.2 706.3C120.4 708.8 120.6 713 119.9 715.6C119.2 718.1 117.5 720.7 115.2 721.8C112.8 722.9 108.6 722.8 105.8 722.1C103.1 721.4 100.3 719.5 98.7 717.6C97 715.6 96.3 712.6 96 710.4C95.6 708.2 95.2 706.1 96.5 704.2Z"/></g>
<g fill="url(#cellg)" stroke="#561f66" stroke-width="1.5"><path d="M96.5 704.2C97.8 702.3 101 699.7 103.8 699C106.5 698.4 110.5 698.9 113 700.1C115.6 701.3 118.1 703.7 119.2 706.3C120.4 708.8 120.6 713 119.9 715.6C119.2 718.1 117.5 720.7 115.2 721.8C112.8 722.9 108.6 722.8 105.8 722.1C103.1 721.4 100.3 719.5 98.7 717.6C97 715.6 96.3 712.6 96 710.4C95.6 708.2 95.2 706.1 96.5 704.2Z"/></g>
<g fill="#fdf5fd" stroke="#fdf5fd" stroke-width="3.8"><path d="M112.1 685.3C112.6 683.3 114.1 680.5 116 679.1C117.8 677.7 121.1 677.1 123.1 676.9C125.2 676.7 127.5 673.9 128.4 677.9C129.2 681.8 129.6 697 128.4 700.8C127.2 704.6 123.3 701.4 121.1 700.6C118.8 699.9 116.4 697.9 115 696.3C113.6 694.7 113 693.1 112.5 691.2C112 689.4 111.5 687.3 112.1 685.3Z"/></g>
<g fill="url(#cellg)" stroke="#561f66" stroke-width="1.5"><path d="M112.1 685.3C112.6 683.3 114.1 680.5 116 679.1C117.8 677.7 121.1 677.1 123.1 676.9C125.2 676.7 127.5 673.9 128.4 677.9C129.2 681.8 129.6 697 128.4 700.8C127.2 704.6 123.3 701.4 121.1 700.6C118.8 699.9 116.4 697.9 115 696.3C113.6 694.7 113 693.1 112.5 691.2C112 689.4 111.5 687.3 112.1 685.3Z"/></g>
<g fill="#fdf5fd" stroke="#fdf5fd" stroke-width="3.8"><path d="M25.7 717.5C26.9 714.9 29.5 713.2 31.9 712.3C34.3 711.4 37.9 711.4 40.2 712.3C42.4 713.2 44.1 715.3 45.2 717.5C46.4 719.8 47 723.2 46.9 725.7C46.7 728.3 45.9 731 44.3 732.9C42.6 734.8 39.6 736.8 37.1 737.1C34.5 737.5 30.8 736.6 28.8 735.1C26.7 733.5 25.2 730.7 24.7 727.8C24.2 724.9 24.5 720.1 25.7 717.5Z"/></g>
<g fill="url(#cellg)" stroke="#561f66" stroke-width="1.5"><path d="M25.7 717.5C26.9 714.9 29.5 713.2 31.9 712.3C34.3 711.4 37.9 711.4 40.2 712.3C42.4 713.2 44.1 715.3 45.2 717.5C46.4 719.8 47 723.2 46.9 725.7C46.7 728.3 45.9 731 44.3 732.9C42.6 734.8 39.6 736.8 37.1 737.1C34.5 737.5 30.8 736.6 28.8 735.1C26.7 733.5 25.2 730.7 24.7 727.8C24.2 724.9 24.5 720.1 25.7 717.5Z"/></g>
<g fill="#fdf5fd" stroke="#fdf5fd" stroke-width="3.8"><path d="M50.1 729.6C51.3 728 53.7 725.8 56.2 725.1C58.8 724.5 62.9 724.4 65.4 725.5C67.9 726.6 70.2 729.4 71.2 731.6C72.2 733.8 72 736.8 71.2 738.8C70.4 740.9 68.8 743 66.5 743.9C64.1 744.8 59.8 744.7 57.3 744.2C54.7 743.7 52.5 742.4 51.1 740.8C49.8 739.2 49.3 736.6 49.1 734.7C48.9 732.8 48.9 731.2 50.1 729.6Z"/></g>
<g fill="url(#cellg)" stroke="#561f66" stroke-width="1.5"><path d="M50.1 729.6C51.3 728 53.7 725.8 56.2 725.1C58.8 724.5 62.9 724.4 65.4 725.5C67.9 726.6 70.2 729.4 71.2 731.6C72.2 733.8 72 736.8 71.2 738.8C70.4 740.9 68.8 743 66.5 743.9C64.1 744.8 59.8 744.7 57.3 744.2C54.7 743.7 52.5 742.4 51.1 740.8C49.8 739.2 49.3 736.6 49.1 734.7C48.9 732.8 48.9 731.2 50.1 729.6Z"/></g>
<g fill="#fdf5fd" stroke="#fdf5fd" stroke-width="3.8"><path d="M79 733.6C80.2 731.1 83.5 727.7 86.5 725.8C89.4 723.9 93.7 722.7 96.8 722.3C100 721.9 102.7 722.1 105.2 723.2C107.6 724.4 110.2 727 111.5 729.5C112.8 731.9 113.8 735.4 113.2 737.9C112.7 740.3 110.7 742.7 108.3 744.1C105.9 745.5 102.5 746.3 98.9 746.4C95.2 746.6 89.8 746 86.4 745.1C83.1 744.2 80.1 742.9 78.9 741C77.7 739.1 77.7 736.2 79 733.6Z"/></g>
<g fill="url(#cellg)" stroke="#561f66" stroke-width="1.5"><path d="M79 733.6C80.2 731.1 83.5 727.7 86.5 725.8C89.4 723.9 93.7 722.7 96.8 722.3C100 721.9 102.7 722.1 105.2 723.2C107.6 724.4 110.2 727 111.5 729.5C112.8 731.9 113.8 735.4 113.2 737.9C112.7 740.3 110.7 742.7 108.3 744.1C105.9 745.5 102.5 746.3 98.9 746.4C95.2 746.6 89.8 746 86.4 745.1C83.1 744.2 80.1 742.9 78.9 741C77.7 739.1 77.7 736.2 79 733.6Z"/></g>
<g fill="#fdf5fd" stroke="#fdf5fd" stroke-width="3.8"><path d="M13.4 735.3C14.8 731.3 19.4 732.8 21.8 733.4C24.2 733.9 25.7 736.9 27.8 738.8C29.8 740.6 33.7 742.7 34 744.7C34.4 746.7 31.5 749 29.8 750.7C28.1 752.4 26.6 753.7 23.8 754.8C21.1 755.9 15.1 760.5 13.4 757.2C11.6 754 12 739.3 13.4 735.3Z"/></g>
<g fill="url(#cellg)" stroke="#561f66" stroke-width="1.5"><path d="M13.4 735.3C14.8 731.3 19.4 732.8 21.8 733.4C24.2 733.9 25.7 736.9 27.8 738.8C29.8 740.6 33.7 742.7 34 744.7C34.4 746.7 31.5 749 29.8 750.7C28.1 752.4 26.6 753.7 23.8 754.8C21.1 755.9 15.1 760.5 13.4 757.2C11.6 754 12 739.3 13.4 735.3Z"/></g>
<g fill="#fdf5fd" stroke="#fdf5fd" stroke-width="3.8"><path d="M23.6 758.3C24.9 756.1 28 752.6 30.8 751C33.6 749.4 37.4 748.5 40.2 748.8C42.9 749.1 46 750.7 47.5 753C49.1 755.3 49.5 759.1 49.5 762.4C49.5 765.7 49.2 770.3 47.5 772.9C45.7 775.5 42.2 777.2 39.1 778.1C36 778.9 31.2 779.3 28.7 778.1C26.1 776.9 24.5 773 23.5 770.7C22.5 768.5 22.5 766.6 22.5 764.5C22.5 762.4 22.2 760.5 23.6 758.3Z"/></g>
<g fill="url(#cellg)" stroke="#561f66" stroke-width="1.5"><path d="M23.6 758.3C24.9 756.1 28 752.6 30.8 751C33.6 749.4 37.4 748.5 40.2 748.8C42.9 749.1 46 750.7 47.5 753C49.1 755.3 49.5 759.1 49.5 762.4C49.5 765.7 49.2 770.3 47.5 772.9C45.7 775.5 42.2 777.2 39.1 778.1C36 778.9 31.2 779.3 28.7 778.1C26.1 776.9 24.5 773 23.5 770.7C22.5 768.5 22.5 766.6 22.5 764.5C22.5 762.4 22.2 760.5 23.6 758.3Z"/></g>
<g fill="#fdf5fd" stroke="#fdf5fd" stroke-width="3.8"><path d="M53.3 752.9C54.5 750.9 56.9 749 59.5 748.2C62.1 747.3 66.6 746.9 68.8 747.7C71 748.4 72 750.3 72.9 752.9C73.7 755.5 74.4 760.1 73.9 763.2C73.4 766.3 72.1 770 69.8 771.5C67.6 773.1 63.2 773 60.5 772.5C57.8 772 55.1 770.4 53.7 768.4C52.4 766.3 52.5 762.7 52.4 760.1C52.3 757.5 52.2 754.9 53.3 752.9Z"/></g>
<g fill="url(#cellg)" stroke="#561f66" stroke-width="1.5"><path d="M53.3 752.9C54.5 750.9 56.9 749 59.5 748.2C62.1 747.3 66.6 746.9 68.8 747.7C71 748.4 72 750.3 72.9 752.9C73.7 755.5 74.4 760.1 73.9 763.2C73.4 766.3 72.1 770 69.8 771.5C67.6 773.1 63.2 773 60.5 772.5C57.8 772 55.1 770.4 53.7 768.4C52.4 766.3 52.5 762.7 52.4 760.1C52.3 757.5 52.2 754.9 53.3 752.9Z"/></g>
<g fill="#fdf5fd" stroke="#fdf5fd" stroke-width="3.8"><path d="M77.8 753.8C78.5 751.4 80.5 749.8 83.1 748.6C85.7 747.5 90.1 746.5 93.4 746.6C96.7 746.8 100.8 747.7 102.8 749.6C104.8 751.5 105.3 755.3 105.3 757.9C105.2 760.5 104.5 763.3 102.7 765.2C100.9 767.1 97.5 768.7 94.4 769.2C91.3 769.7 86.7 769.3 84.1 768.2C81.5 767.2 79.9 765.5 78.9 763.1C77.8 760.7 77.1 756.2 77.8 753.8Z"/></g>
<g fill="url(#cellg)" stroke="#561f66" stroke-width="1.5"><path d="M77.8 753.8C78.5 751.4 80.5 749.8 83.1 748.6C85.7 747.5 90.1 746.5 93.4 746.6C96.7 746.8 100.8 747.7 102.8 749.6C104.8 751.5 105.3 755.3 105.3 757.9C105.2 760.5 104.5 763.3 102.7 765.2C100.9 767.1 97.5 768.7 94.4 769.2C91.3 769.7 86.7 769.3 84.1 768.2C81.5 767.2 79.9 765.5 78.9 763.1C77.8 760.7 77.1 756.2 77.8 753.8Z"/></g>
<g fill="#fdf5fd" stroke="#fdf5fd" stroke-width="3.8"><path d="M13.2 763.2C14.3 761.2 18.7 764.3 20 766.4C21.3 768.6 22.2 774.1 21.1 776C19.9 778 14.5 780.3 13.2 778.1C11.9 776 12 765.1 13.2 763.2Z"/></g>
<g fill="url(#cellg)" stroke="#561f66" stroke-width="1.5"><path d="M13.2 763.2C14.3 761.2 18.7 764.3 20 766.4C21.3 768.6 22.2 774.1 21.1 776C19.9 778 14.5 780.3 13.2 778.1C11.9 776 12 765.1 13.2 763.2Z"/></g>
<g fill="#fdf5fd" stroke="#fdf5fd" stroke-width="3.8"><path d="M124.9 732.2C125.5 730.6 128 728.3 128.7 730C129.3 731.8 129.3 741.1 128.7 742.7C128.1 744.2 126 741.2 125.3 739.4C124.7 737.7 124.4 733.7 124.9 732.2Z"/></g>
<g fill="url(#cellg)" stroke="#561f66" stroke-width="1.5"><path d="M124.9 732.2C125.5 730.6 128 728.3 128.7 730C129.3 731.8 129.3 741.1 128.7 742.7C128.1 744.2 126 741.2 125.3 739.4C124.7 737.7 124.4 733.7 124.9 732.2Z"/></g>
</g>
<circle cx="31.6" cy="693.8" r="4" fill="url(#nuc)"/>
<circle cx="69.9" cy="682.7" r="4" fill="url(#nuc)"/>
<circle cx="80.3" cy="717" r="4.6" fill="url(#nuc)"/>
<circle cx="123.4" cy="689.3" r="4" fill="url(#nuc)"/>
<circle cx="93.5" cy="733.6" r="3.2" fill="url(#nuc)"/>
<circle cx="92.4" cy="751.3" r="3" fill="url(#nuc)"/>
<circle cx="62" cy="741" r="3" fill="url(#nuc)"/>
</g>
<rect x="17.2" y="668.3" width="109.6" height="109" fill="none" stroke="#000" stroke-width="2"/>
<line x1="87.3" y1="773.1" x2="124.8" y2="773.1" stroke="#111" stroke-width="1.6"/>
<text class="t" x="123.3" y="770.8" font-size="9.6" font-weight="bold" text-anchor="end" textLength="21.4" lengthAdjust="spacingAndGlyphs">20µm</text>
<clipPath id="fc2"><rect x="138.5" y="667.9" width="112.3" height="110.4"/></clipPath>
<g clip-path="url(#fc2)">
<rect x="138.5" y="667.9" width="112.3" height="110.4" fill="#ebe9ee"/>
<g filter="url(#mottle2)">
<g fill="#fdf5fd" stroke="#fdf5fd" stroke-width="3.8"><path d="M135.3 667.9C136.8 665.4 142.6 666.8 144.4 668C146.1 669.2 146.2 672.7 146.1 675C145.9 677.3 145.1 680.5 143.3 681.9C141.5 683.2 136.6 685.4 135.3 683.1C134 680.8 133.8 670.4 135.3 667.9Z"/></g>
<g fill="url(#cellg2)" stroke="#561f66" stroke-width="1.5"><path d="M135.3 667.9C136.8 665.4 142.6 666.8 144.4 668C146.1 669.2 146.2 672.7 146.1 675C145.9 677.3 145.1 680.5 143.3 681.9C141.5 683.2 136.6 685.4 135.3 683.1C134 680.8 133.8 670.4 135.3 667.9Z"/></g>
<g fill="#fdf5fd" stroke="#fdf5fd" stroke-width="3.8"><path d="M142.3 686.3C143.1 684.5 144.3 681.6 146.2 680.2C148 678.8 151.4 677.7 153.3 678C155.2 678.3 156.5 680.3 157.3 682.2C158.2 684.1 158.6 686.9 158.2 689.3C157.9 691.7 156.8 694.7 155.3 696.4C153.8 698.1 151.2 699.5 149.2 699.5C147.2 699.5 144.4 697.8 143.1 696.4C141.8 695 141.3 693 141.2 691.3C141 689.6 141.4 688.2 142.3 686.3Z"/></g>
<g fill="url(#cellg2)" stroke="#561f66" stroke-width="1.5"><path d="M142.3 686.3C143.1 684.5 144.3 681.6 146.2 680.2C148 678.8 151.4 677.7 153.3 678C155.2 678.3 156.5 680.3 157.3 682.2C158.2 684.1 158.6 686.9 158.2 689.3C157.9 691.7 156.8 694.7 155.3 696.4C153.8 698.1 151.2 699.5 149.2 699.5C147.2 699.5 144.4 697.8 143.1 696.4C141.8 695 141.3 693 141.2 691.3C141 689.6 141.4 688.2 142.3 686.3Z"/></g>
<g fill="#fdf5fd" stroke="#fdf5fd" stroke-width="3.8"><path d="M159.9 683.1C160.8 681.4 162.8 680 165 679.1C167.2 678.2 171.1 677.5 173.1 678C175.2 678.5 176.3 680.2 177.2 682.1C178 684 178.5 687 178.1 689.2C177.8 691.4 176.8 693.9 175.1 695.3C173.5 696.6 170.2 697.3 168 697.3C165.8 697.3 163.3 696.7 161.9 695.3C160.6 693.9 160.3 691.2 160 689.2C159.7 687.1 159.1 684.8 159.9 683.1Z"/></g>
<g fill="url(#cellg2)" stroke="#561f66" stroke-width="1.5"><path d="M159.9 683.1C160.8 681.4 162.8 680 165 679.1C167.2 678.2 171.1 677.5 173.1 678C175.2 678.5 176.3 680.2 177.2 682.1C178 684 178.5 687 178.1 689.2C177.8 691.4 176.8 693.9 175.1 695.3C173.5 696.6 170.2 697.3 168 697.3C165.8 697.3 163.3 696.7 161.9 695.3C160.6 693.9 160.3 691.2 160 689.2C159.7 687.1 159.1 684.8 159.9 683.1Z"/></g>
<g fill="#fdf5fd" stroke="#fdf5fd" stroke-width="3.8"><path d="M165.5 666.5C167.8 665.7 178.5 665.6 180.4 666.4C182.3 667.2 178.7 670.3 177.1 671.4C175.4 672.4 172.4 672.6 170.6 672.6C168.7 672.5 167 672 166.2 671C165.3 670 163.1 667.3 165.5 666.5Z"/></g>
<g fill="url(#cellg2)" stroke="#561f66" stroke-width="1.5"><path d="M165.5 666.5C167.8 665.7 178.5 665.6 180.4 666.4C182.3 667.2 178.7 670.3 177.1 671.4C175.4 672.4 172.4 672.6 170.6 672.6C168.7 672.5 167 672 166.2 671C165.3 670 163.1 667.3 165.5 666.5Z"/></g>
<g fill="#fdf5fd" stroke="#fdf5fd" stroke-width="3.8"><path d="M181 675.3C181.5 673.3 182.9 672.1 185.1 671.3C187.3 670.4 191.8 669.6 194.2 670.3C196.5 670.9 198.4 673.3 199.2 675.3C200.1 677.3 199.9 680.5 199.2 682.4C198.5 684.2 197.2 685.5 195.1 686.4C193.1 687.2 189.3 687.9 187.1 687.4C184.9 686.9 183.1 685.4 182 683.4C181 681.4 180.5 677.3 181 675.3Z"/></g>
<g fill="url(#cellg2)" stroke="#561f66" stroke-width="1.5"><path d="M181 675.3C181.5 673.3 182.9 672.1 185.1 671.3C187.3 670.4 191.8 669.6 194.2 670.3C196.5 670.9 198.4 673.3 199.2 675.3C200.1 677.3 199.9 680.5 199.2 682.4C198.5 684.2 197.2 685.5 195.1 686.4C193.1 687.2 189.3 687.9 187.1 687.4C184.9 686.9 183.1 685.4 182 683.4C181 681.4 180.5 677.3 181 675.3Z"/></g>
<g fill="#fdf5fd" stroke="#fdf5fd" stroke-width="3.8"><path d="M204.1 666.7C207.3 665.3 220.8 665.2 223.6 666.6C226.5 667.9 222.7 672.8 221.3 674.8C219.9 676.8 217.3 677.9 215.2 678.6C213 679.2 210.2 679.3 208.4 678.7C206.6 678.1 205 676.8 204.3 674.8C203.5 672.8 200.9 668 204.1 666.7Z"/></g>
<g fill="url(#cellg2)" stroke="#561f66" stroke-width="1.5"><path d="M204.1 666.7C207.3 665.3 220.8 665.2 223.6 666.6C226.5 667.9 222.7 672.8 221.3 674.8C219.9 676.8 217.3 677.9 215.2 678.6C213 679.2 210.2 679.3 208.4 678.7C206.6 678.1 205 676.8 204.3 674.8C203.5 672.8 200.9 668 204.1 666.7Z"/></g>
<g fill="#fdf5fd" stroke="#fdf5fd" stroke-width="3.8"><path d="M224 677.7C225.2 676 227.8 674.3 230.2 673.6C232.6 672.9 236.1 672.7 238.4 673.6C240.6 674.4 242.7 676.1 243.5 678.7C244.4 681.3 244.2 686.2 243.5 689C242.8 691.7 241.5 694 239.4 695.2C237.4 696.4 233.6 696.9 231.2 696.2C228.8 695.5 226.4 693 225.1 691C223.7 688.9 223.3 686.1 223.1 683.8C222.9 681.6 222.8 679.4 224 677.7Z"/></g>
<g fill="url(#cellg2)" stroke="#561f66" stroke-width="1.5"><path d="M224 677.7C225.2 676 227.8 674.3 230.2 673.6C232.6 672.9 236.1 672.7 238.4 673.6C240.6 674.4 242.7 676.1 243.5 678.7C244.4 681.3 244.2 686.2 243.5 689C242.8 691.7 241.5 694 239.4 695.2C237.4 696.4 233.6 696.9 231.2 696.2C228.8 695.5 226.4 693 225.1 691C223.7 688.9 223.3 686.1 223.1 683.8C222.9 681.6 222.8 679.4 224 677.7Z"/></g>
<g fill="#fdf5fd" stroke="#fdf5fd" stroke-width="3.8"><path d="M246.8 672.5C247.5 670.7 250 669.3 250.7 671.4C251.3 673.5 251.3 683.4 250.7 685.1C250.1 686.9 247.5 684 246.9 681.9C246.2 679.8 246.2 674.2 246.8 672.5Z"/></g>
<g fill="url(#cellg2)" stroke="#561f66" stroke-width="1.5"><path d="M246.8 672.5C247.5 670.7 250 669.3 250.7 671.4C251.3 673.5 251.3 683.4 250.7 685.1C250.1 686.9 247.5 684 246.9 681.9C246.2 679.8 246.2 674.2 246.8 672.5Z"/></g>
<g fill="#fdf5fd" stroke="#fdf5fd" stroke-width="3.8"><path d="M195.3 689.8C196.4 687.1 200.6 684.4 203.6 683.6C206.5 682.7 210 683.6 212.9 684.6C215.9 685.7 220.5 687 221.4 689.8C222.2 692.5 219.9 698.1 218 701.2C216.1 704.3 212.2 706.5 209.8 708.4C207.4 710.3 205.1 712.6 203.6 712.8C202 713 201.7 711.7 200.5 709.6C199.3 707.5 197.4 703.5 196.5 700.2C195.6 696.9 194.1 692.6 195.3 689.8Z"/></g>
<g fill="url(#cellg2)" stroke="#561f66" stroke-width="1.5"><path d="M195.3 689.8C196.4 687.1 200.6 684.4 203.6 683.6C206.5 682.7 210 683.6 212.9 684.6C215.9 685.7 220.5 687 221.4 689.8C222.2 692.5 219.9 698.1 218 701.2C216.1 704.3 212.2 706.5 209.8 708.4C207.4 710.3 205.1 712.6 203.6 712.8C202 713 201.7 711.7 200.5 709.6C199.3 707.5 197.4 703.5 196.5 700.2C195.6 696.9 194.1 692.6 195.3 689.8Z"/></g>
<g fill="#fdf5fd" stroke="#fdf5fd" stroke-width="3.8"><path d="M135.3 698.9C136.8 696.6 142.4 699.7 144.4 701.2C146.3 702.7 147.2 705.9 147.2 708.1C147.2 710.2 146.3 712.8 144.4 714C142.4 715.1 136.9 717.7 135.3 715.2C133.8 712.7 133.8 701.2 135.3 698.9Z"/></g>
<g fill="url(#cellg2)" stroke="#561f66" stroke-width="1.5"><path d="M135.3 698.9C136.8 696.6 142.4 699.7 144.4 701.2C146.3 702.7 147.2 705.9 147.2 708.1C147.2 710.2 146.3 712.8 144.4 714C142.4 715.1 136.9 717.7 135.3 715.2C133.8 712.7 133.8 701.2 135.3 698.9Z"/></g>
<g fill="#fdf5fd" stroke="#fdf5fd" stroke-width="3.8"><path d="M155.5 707.4C156.5 705.7 158.2 703.4 160.6 702.3C163 701.3 167.2 700.5 169.8 701.2C172.4 701.9 175 703.9 176 706.3C177 708.7 176.7 713 176 715.6C175.3 718.2 174.1 720.6 171.9 721.8C169.6 723 165.2 723.3 162.6 722.7C160.1 722.2 157.9 720.3 156.5 718.6C155.2 716.9 154.7 714.4 154.5 712.5C154.3 710.7 154.5 709.1 155.5 707.4Z"/></g>
<g fill="url(#cellg2)" stroke="#561f66" stroke-width="1.5"><path d="M155.5 707.4C156.5 705.7 158.2 703.4 160.6 702.3C163 701.3 167.2 700.5 169.8 701.2C172.4 701.9 175 703.9 176 706.3C177 708.7 176.7 713 176 715.6C175.3 718.2 174.1 720.6 171.9 721.8C169.6 723 165.2 723.3 162.6 722.7C160.1 722.2 157.9 720.3 156.5 718.6C155.2 716.9 154.7 714.4 154.5 712.5C154.3 710.7 154.5 709.1 155.5 707.4Z"/></g>
<g fill="#fdf5fd" stroke="#fdf5fd" stroke-width="3.8"><path d="M180.8 703.2C181.6 701.7 183.2 700.7 184.8 700.1C186.5 699.6 189.1 699.3 190.9 700.2C192.8 701 194.9 703.1 196 705.3C197 707.5 197.3 711 197 713.3C196.7 715.7 195.7 718.3 194 719.5C192.4 720.7 188.9 721.1 186.9 720.5C184.8 720 183 718.2 181.9 716.3C180.7 714.5 180.1 711.5 179.9 709.3C179.8 707.1 180 704.7 180.8 703.2Z"/></g>
<g fill="url(#cellg2)" stroke="#561f66" stroke-width="1.5"><path d="M180.8 703.2C181.6 701.7 183.2 700.7 184.8 700.1C186.5 699.6 189.1 699.3 190.9 700.2C192.8 701 194.9 703.1 196 705.3C197 707.5 197.3 711 197 713.3C196.7 715.7 195.7 718.3 194 719.5C192.4 720.7 188.9 721.1 186.9 720.5C184.8 720 183 718.2 181.9 716.3C180.7 714.5 180.1 711.5 179.9 709.3C179.8 707.1 180 704.7 180.8 703.2Z"/></g>
<g fill="#fdf5fd" stroke="#fdf5fd" stroke-width="3.8"><path d="M210.9 712.8C211.6 710.9 212.8 708.1 215 706.6C217.3 705.1 221.2 703.7 224.3 703.5C227.4 703.3 231.4 703.9 233.7 705.4C236 707 237.5 710.1 237.9 712.7C238.2 715.3 237.1 719 235.7 721.1C234.3 723.1 232.2 724.3 229.4 725.1C226.7 725.9 221.9 726.4 219.2 726.1C216.4 725.8 214.3 724.4 212.9 723.1C211.6 721.7 211.2 719.6 210.9 717.9C210.5 716.2 210.2 714.6 210.9 712.8Z"/></g>
<g fill="url(#cellg2)" stroke="#561f66" stroke-width="1.5"><path d="M210.9 712.8C211.6 710.9 212.8 708.1 215 706.6C217.3 705.1 221.2 703.7 224.3 703.5C227.4 703.3 231.4 703.9 233.7 705.4C236 707 237.5 710.1 237.9 712.7C238.2 715.3 237.1 719 235.7 721.1C234.3 723.1 232.2 724.3 229.4 725.1C226.7 725.9 221.9 726.4 219.2 726.1C216.4 725.8 214.3 724.4 212.9 723.1C211.6 721.7 211.2 719.6 210.9 717.9C210.5 716.2 210.2 714.6 210.9 712.8Z"/></g>
<g fill="#fdf5fd" stroke="#fdf5fd" stroke-width="3.8"><path d="M135.2 718.9C136.3 717.3 140.8 719.1 142 721C143.1 723 143.2 729 142 730.6C140.9 732.2 136.4 732.6 135.3 730.6C134.1 728.7 134.1 720.5 135.2 718.9Z"/></g>
<g fill="url(#cellg2)" stroke="#561f66" stroke-width="1.5"><path d="M135.2 718.9C136.3 717.3 140.8 719.1 142 721C143.1 723 143.2 729 142 730.6C140.9 732.2 136.4 732.6 135.3 730.6C134.1 728.7 134.1 720.5 135.2 718.9Z"/></g>
<g fill="#fdf5fd" stroke="#fdf5fd" stroke-width="3.8"><path d="M144.5 729.4C145.5 726.9 147.3 723.7 149.5 722.2C151.8 720.8 155.2 720.2 157.8 720.7C160.4 721.2 163.7 723.5 165 725.3C166.4 727 166.5 729.1 166 731.5C165.4 733.9 163.7 737.4 161.8 739.6C159.9 741.8 157.1 744.1 154.7 744.9C152.3 745.6 149.3 745.1 147.4 743.9C145.5 742.7 143.8 740.1 143.4 737.6C142.9 735.2 143.5 732 144.5 729.4Z"/></g>
<g fill="url(#cellg2)" stroke="#561f66" stroke-width="1.5"><path d="M144.5 729.4C145.5 726.9 147.3 723.7 149.5 722.2C151.8 720.8 155.2 720.2 157.8 720.7C160.4 721.2 163.7 723.5 165 725.3C166.4 727 166.5 729.1 166 731.5C165.4 733.9 163.7 737.4 161.8 739.6C159.9 741.8 157.1 744.1 154.7 744.9C152.3 745.6 149.3 745.1 147.4 743.9C145.5 742.7 143.8 740.1 143.4 737.6C142.9 735.2 143.5 732 144.5 729.4Z"/></g>
<g fill="#fdf5fd" stroke="#fdf5fd" stroke-width="3.8"><path d="M164.4 738.3C165.5 736 168.1 733.4 170.7 732.1C173.2 730.9 177.1 730.4 179.9 730.7C182.6 731 185.6 732.3 187.2 734.1C188.7 735.9 189.4 738.8 189.2 741.4C189 743.9 188 747.7 186.1 749.6C184.2 751.5 180.7 752.3 177.8 752.6C174.9 752.9 170.8 752.9 168.5 751.7C166.3 750.5 165.1 747.7 164.4 745.5C163.7 743.2 163.4 740.5 164.4 738.3Z"/></g>
<g fill="url(#cellg2)" stroke="#561f66" stroke-width="1.5"><path d="M164.4 738.3C165.5 736 168.1 733.4 170.7 732.1C173.2 730.9 177.1 730.4 179.9 730.7C182.6 731 185.6 732.3 187.2 734.1C188.7 735.9 189.4 738.8 189.2 741.4C189 743.9 188 747.7 186.1 749.6C184.2 751.5 180.7 752.3 177.8 752.6C174.9 752.9 170.8 752.9 168.5 751.7C166.3 750.5 165.1 747.7 164.4 745.5C163.7 743.2 163.4 740.5 164.4 738.3Z"/></g>
<g fill="#fdf5fd" stroke="#fdf5fd" stroke-width="3.8"><path d="M192 740.7C192.6 738.1 194 737 196 736.1C198.1 735.3 201.9 735 204.3 735.6C206.7 736.2 209.1 737.8 210.4 739.7C211.8 741.6 212.4 744.3 212.4 746.9C212.4 749.4 212 753 210.5 755.1C208.9 757.2 205.8 758.7 203.3 759.2C200.8 759.8 197.3 759.5 195.4 758.2C193.5 757 192.6 754.9 192 752C191.4 749.1 191.3 743.3 192 740.7Z"/></g>
<g fill="url(#cellg2)" stroke="#561f66" stroke-width="1.5"><path d="M192 740.7C192.6 738.1 194 737 196 736.1C198.1 735.3 201.9 735 204.3 735.6C206.7 736.2 209.1 737.8 210.4 739.7C211.8 741.6 212.4 744.3 212.4 746.9C212.4 749.4 212 753 210.5 755.1C208.9 757.2 205.8 758.7 203.3 759.2C200.8 759.8 197.3 759.5 195.4 758.2C193.5 757 192.6 754.9 192 752C191.4 749.1 191.3 743.3 192 740.7Z"/></g>
<g fill="#fdf5fd" stroke="#fdf5fd" stroke-width="3.8"><path d="M214.2 736.1C214.9 733.5 216.8 732.1 219.4 730.9C222.1 729.8 226.7 729.1 229.8 728.9C233 728.8 236.2 728.7 238.2 729.9C240.2 731 241.3 733.4 241.9 736.1C242.5 738.9 242.7 743.8 241.9 746.5C241.1 749.3 239.5 751.4 237.1 752.8C234.8 754.2 230.7 754.8 227.8 754.8C224.8 754.8 221.5 754.2 219.4 752.8C217.3 751.4 216.2 749.3 215.3 746.5C214.4 743.8 213.5 738.7 214.2 736.1Z"/></g>
<g fill="url(#cellg2)" stroke="#561f66" stroke-width="1.5"><path d="M214.2 736.1C214.9 733.5 216.8 732.1 219.4 730.9C222.1 729.8 226.7 729.1 229.8 728.9C233 728.8 236.2 728.7 238.2 729.9C240.2 731 241.3 733.4 241.9 736.1C242.5 738.9 242.7 743.8 241.9 746.5C241.1 749.3 239.5 751.4 237.1 752.8C234.8 754.2 230.7 754.8 227.8 754.8C224.8 754.8 221.5 754.2 219.4 752.8C217.3 751.4 216.2 749.3 215.3 746.5C214.4 743.8 213.5 738.7 214.2 736.1Z"/></g>
<g fill="#fdf5fd" stroke="#fdf5fd" stroke-width="3.8"><path d="M145.6 760.5C146.4 758.6 147.6 756.5 149.6 755.4C151.6 754.3 155.3 753.6 157.7 753.9C160.1 754.2 162.7 755.4 163.9 757.3C165.1 759.3 165.2 763 164.9 765.6C164.5 768.1 163.7 771.2 161.8 772.7C160 774.3 156 774.7 153.7 774.7C151.3 774.7 149 774.1 147.5 772.7C146 771.4 144.8 768.6 144.5 766.6C144.2 764.5 144.7 762.4 145.6 760.5Z"/></g>
<g fill="url(#cellg2)" stroke="#561f66" stroke-width="1.5"><path d="M145.6 760.5C146.4 758.6 147.6 756.5 149.6 755.4C151.6 754.3 155.3 753.6 157.7 753.9C160.1 754.2 162.7 755.4 163.9 757.3C165.1 759.3 165.2 763 164.9 765.6C164.5 768.1 163.7 771.2 161.8 772.7C160 774.3 156 774.7 153.7 774.7C151.3 774.7 149 774.1 147.5 772.7C146 771.4 144.8 768.6 144.5 766.6C144.2 764.5 144.7 762.4 145.6 760.5Z"/></g>
<g fill="#fdf5fd" stroke="#fdf5fd" stroke-width="3.8"><path d="M168.8 762.6C169.5 760.2 171.6 758.5 174 757.5C176.5 756.5 180.5 756.2 183.3 756.6C186 756.9 188.8 757.9 190.5 759.6C192.2 761.3 193.4 764.4 193.6 766.8C193.8 769.2 193.3 772.4 191.6 774C189.8 775.6 186 776.1 183.3 776.5C180.5 776.9 177.3 777.4 175.1 776.6C172.9 775.9 170.9 774.3 169.9 771.9C168.9 769.6 168.1 765 168.8 762.6Z"/></g>
<g fill="url(#cellg2)" stroke="#561f66" stroke-width="1.5"><path d="M168.8 762.6C169.5 760.2 171.6 758.5 174 757.5C176.5 756.5 180.5 756.2 183.3 756.6C186 756.9 188.8 757.9 190.5 759.6C192.2 761.3 193.4 764.4 193.6 766.8C193.8 769.2 193.3 772.4 191.6 774C189.8 775.6 186 776.1 183.3 776.5C180.5 776.9 177.3 777.4 175.1 776.6C172.9 775.9 170.9 774.3 169.9 771.9C168.9 769.6 168.1 765 168.8 762.6Z"/></g>
</g>
</g>
<rect x="139.5" y="668.9" width="110.3" height="108.4" fill="none" stroke="#000" stroke-width="2"/>
<line x1="209.9" y1="773.1" x2="247.4" y2="773.1" stroke="#111" stroke-width="1.6"/>
<text class="t" x="247" y="770.8" font-size="9.6" font-weight="bold" text-anchor="end" textLength="21.4" lengthAdjust="spacingAndGlyphs">20µm</text>
</g>
<!-- ================= PANEL G ================= -->
<g id="G">
<text class="t b" font-size="20.5" font-weight="bold" transform="translate(271.8 656.7) scale(0.88 1)">G</text>
<clipPath id="gcp"><rect x="296" y="651" width="125" height="126.5"/></clipPath>
<g clip-path="url(#gcp)">
<path d="M296.5 777.5L297.4 775.2 299.5 770.5 301.5 765.6 305.6 754.7 309.7 741 312.4 724.6 314.4 711 316.5 701.4 318.5 697.3 319.9 693.2 321.3 694.6 322.6 704.2 324 717.8 326 731.5 328.1 746.5 330.8 762.9 334.3 773.8 337 778Z" fill="#f6f6f6" stroke="none"/>
<path d="M296.5 777.5L297.4 775.2 299.5 770.5 301.5 765.6 305.6 754.7 309.7 741 312.4 724.6 314.4 711 316.5 701.4 318.5 697.3 319.9 693.2 321.3 694.6 322.6 704.2 324 717.8 326 731.5 328.1 746.5 330.8 762.9 334.3 773.8 337 778" fill="none" stroke="#c4c4c4" stroke-width="2.2" stroke-linejoin="round"/>
<path d="M296.8 770L297.4 769.4 298.4 770.6 298.9 771 299.3 770.4 300 769.2 300.4 768.2 301.2 767.2 301.6 766 302.1 765 302.4 763.9 303 763.7 303.6 762.5 303.8 761.4 304.5 760.9 304.9 759.7 305.3 758.9 305.5 758.2 305.8 757 306.3 755.8 306.4 754.6 307 753.7 307.2 752.9 307.4 751.9 307.9 750.8 308.1 749.5 308.2 749.1 308.4 747.4 308.8 746.4 309.3 745.9 309.3 744.7 309.5 743.6 309.9 743.1 309.9 741.6 310.4 741.2 310.4 740.2 310.8 738.9 311.1 737.9 311.3 736.8 311.5 735.3 311.3 734.1 311.7 733 311.9 732.5 312 731.6 312.2 730.2 312 729.3 312.2 728 312.3 727.4 312.2 725.6 312.4 724.8 312.9 724.2 312.6 722.5 312.7 721.7 313.1 720.7 313.1 719.6 313.1 718.4 313.2 718 313.5 716.4 313.6 715.9 313.4 714.8 313.7 713.8 313.5 712.7 313.7 711.4 313.8 710.6 314.2 709.8 314.6 708.5 314.9 707 315.1 706.2 315.3 705.6 315.6 704.7 316.1 703.2 316.2 702.2 316.3 700.9 316.3 700.1 316.2 699.3 316.6 698 316.8 696.7 316.7 695.7 316.7 694.7 316.8 694 316.8 692.8 317.3 691.9 317.5 690.5 319 689.8 319.1 688.9 319.3 687.7 319.6 686.4 319.7 685.2 319.6 684.9 319.8 683.7 319.8 682.5 319.9 681.2 320.4 680.1 320.2 679.1 320.5 678.1 320.5 677.1 320.7 678.1 320.8 678.9 321 679.8 321.6 681 321.6 682.3 321.5 683.3 321.6 684.3 321.8 685.4 321.8 686.7 321.9 687.7 322.2 688.9 322.4 688.9 322.2 690.2 322.5 691.1 322.6 692 322.6 693.4 322.4 694.3 322.8 695.9 322.8 696.5 324.3 696.9 325.3 698 325.2 699.4 325.5 699.6 325.6 700.7 325.6 702.1 325.7 703.2 325.7 704.5 325.6 705.3 325.6 705.9 325.7 707.6 325.8 708.2 325.9 709.4 326 710.7 326.1 711.2 326.3 712.6 326.4 713.2 326.5 714.9 326.2 715.1 326.5 716.8 326.3 717.1 326.6 718.8 326.5 719.6 326.5 720.7 326.5 721.6 326.8 722.5 327 724.1 326.9 724.7 327.2 725.6 327.1 726.8 327.4 728.2 327.5 729.4 327.5 730.1 327.9 731.1 327.8 732 328 733.5 327.8 734 328.1 735.4 328 736 328.3 736.7 328.6 738.7 328.6 739.5 328.5 740.1 328.6 741.4 328.9 742.5 329 743.4 329 744.4 329.3 744.9 329.5 746 329.7 747.2 329.8 748.6 329.7 749.4 330.3 750.2 330.1 751.1 330.4 752.3 330.4 753.6 330.4 754.7 330.8 755.6 330.8 756.7 331.3 757.4 331.1 758.4 331.6 759.6 331.7 759.8 331.7 761.2 331.8 761.8 332.4 763.6 332.7 764.8 332.8 765.4 333.4 766.5 333.7 767.6 333.9 768.2 333.9 769.8 334.2 771 334.7 771.7 335.1 772.3 335.8 773.6 336.3 774.8 337.3 775.5 337.8 776.1 338.4 777" fill="none" stroke="#111" stroke-width="1.8" stroke-linejoin="round"/>
<path d="M313.8 778L314.9 777.8 315.9 777.6 316.9 777.4 318 777.2 319.1 777.1 320.1 777 321.2 776.8 322.2 776.7 323.3 776.6 324.3 776.2 325.5 775.4 326.4 775.7 327.6 774.8 328.4 775.3 329.3 774.5 330.4 773.5 331.5 773.8 332.1 773.2 333.1 772.8 333.8 771.4 335.2 771.8 336 770.9 336.7 769 337.7 769 338 768.1 338.8 767.9 339.6 766 340 765.6 341 764.3 341.4 764 342.1 763 342.5 762 343.5 761.7 343.6 761.3 344 760.2 344.8 759.5 345 758.2 345.3 757 345.5 755.4 345.6 755.4 346.5 754.6 346.4 752.9 346.8 752 347.1 751.8 347.2 749.5 348.2 749.5 348.2 748.3 348.7 747.4 348.9 746 349.2 745.4 349.5 744.5 349.4 742.9 350.2 742.1 350.2 741.1 350.1 740 350.8 738.7 350.7 738.7 351.2 737.5 351.6 736.8 351.8 735.1 351.8 734.9 351.9 733.7 352 732 352.2 731.7 352.9 729.5 352.9 729.5 353.1 728.1 353.1 727.6 353.5 725.8 353.7 725.1 354.1 723.7 354.9 723.9 354.8 722.7 355.5 721 355.6 720.5 355.5 718.8 356 718.5 356.5 717.9 356.6 716.8 356.9 715.1 357 714.6 357.2 713 357.3 712.3 357.9 710.8 358.3 710 358.1 708 358.4 707.8 358.1 706.7 358.7 705.4 358.2 705 358.2 702.8 358.6 701.7 359 700.8 358.8 700.2 358.7 699.4 359 698.2 359.1 697.1 359.2 695.6 359.7 694.8 359.4 694 360.1 693.2 360.2 692.3 360.2 690.2 360.5 689.2 360.6 688.3 360.8 687.4 360.8 686.7 361.4 686 362.7 685.8 362.9 686.7 363.2 688.5 363.7 689 364 690 364 691.7 364.6 692.3 365.3 693.6 365.4 694.1 365.6 695.4 365.7 694.4 365.9 692.8 365.6 693.1 366.1 691.1 365.4 689.8 366 688.8 365.8 688.7 365.5 687.5 365.8 686.6 365.8 685.4 365.7 684.2 365.9 682.7 366.1 682 366.1 681.8 365.8 680.3 366 679.2 366.4 678.5 366.1 676.7 366.3 676.3 366.3 675.9 366.4 674.5 366.2 673.3 366.9 674.5 367.2 675.5 367.5 676.2 368 677 367.9 678.3 368.3 680 367.8 681.4 368.2 681.5 368.5 682.9 369.2 682.2 370.4 681.9 370.7 682.9 372 683.6 372.3 684.8 373.4 684.6 374.6 683.8 375 684.3 374.5 686.1 374.9 686.6 374.7 688.1 374.8 689.5 375.3 689.5 375.2 690.4 375.3 691.5 375.2 692.6 375.3 694.5 375.5 694.8 375.2 695.6 375.4 696.8 375.9 697.5 375.9 698.3 375.9 700.6 375.8 700.3 376 701.3 375.8 703.3 376.1 703.3 376 704.4 376.2 706 377.9 706.4 379 706.9 379.8 707.1 381.4 708 382.3 707.9 382.2 709 382.7 709.6 382.9 711.2 383.5 712.6 383.8 713.8 383.9 713.6 384.3 714.7 384.5 716.7 384.2 717 384.8 718.5 385 720 385.1 720.7 385.1 722 385.3 722.3 385.6 723.4 385.4 725.2 385.8 725.1 385.8 727 385.8 727.5 386.3 728.2 386.5 730.1 386.3 730.4 386.7 731.9 387 733.6 387.4 734 387.6 735.5 388.1 735.7 387.8 737 388.4 738.3 388.7 739.6 388.8 740.9 389.3 742.1 389.9 742.4 390 744 390.6 745.5 390.4 746.3 391.2 747.5 391.5 748.2 391.5 749.2 391.8 750.8 392.5 751.7 392.2 752.5 393 752.8 393.5 754.2 393.4 755.2 394.1 756.5 394.4 756.9 394.5 758.4 395.1 759.5 395.5 760.2 395.6 761.3 396 761.1 396.4 762.2 396.6 764.1 396.7 764.1 397.4 765.5 397.8 765.9 397.7 767.1 398.3 768.5 399.1 769.7 399.9 770.3 400.5 769.9 401.6 770.9 402.5 772 403.1 772.3 403.8 773.2 404.7 773.6 405.4 774.3 406.4 775.1 407.5 775.1 408.1 776.4 409 777.1 409.8 777.8" fill="none" stroke="#b81c24" stroke-width="1.7" stroke-linejoin="round"/>
<path d="M349.2 777.5L349.8 776.7 350.2 776.6 351.5 774.5 351.5 773.9 352.3 773.8 352.9 773.3 353.6 772.6 354.7 771.3 355 770.4 355.8 769.8 355.7 768.9 356.6 768.3 356.8 766.6 357.6 766.4 358.3 765.7 358.7 764.8 359.2 763.5 360 762 360.4 761.2 360.8 761.2 361.4 759.2 361.7 758.8 362.1 758.1 362.9 756.3 363.8 755.3 364.1 755 364.8 753.9 365.2 753.7 366 752 366.5 751.2 366.9 750 367.2 749.3 367.6 748.6 368.3 746.8 368.3 746.2 369 745.3 369 745.1 369.1 743.4 369.5 743.1 370 741.6 370.4 740.4 370.5 739.2 371.4 738.7 371.4 737.9 371.6 737 372.3 735.8 373 734.7 373.2 734.5 373.7 733.4 374.3 732 374.9 731.7 375.2 730 375.6 728.9 375.6 728.1 376.2 727.3 376.6 726 376.5 724.1 376.7 723.9 377.2 722.2 377.1 721.5 377.9 719.9 377.6 719.3 378.1 718.5 378.2 717.1 378.4 716.9 378.5 715.1 378.9 714.3 379.5 713.1 379.8 712.8 379.7 710.6 379.7 710.7 380.3 708.7 380.7 707.9 380.7 707.3 381 706 381 704.6 381.1 703.6 381.4 703.1 381.9 702.4 382 700.2 381.9 699.9 382.1 698.7 382.3 698.1 383.1 696.9 382.8 696.1 382.9 694.7 383.7 693.4 383.3 693 383.8 691.5 384 690.3 384.3 689 384.2 689 384.6 687.2 384.2 686.4 384.4 685.1 384.7 684.8 385.1 683.6 384.8 683 385.4 681.2 385.2 680.6 385.2 679.5 385.2 677.8 385.5 677.1 385.8 676.2 386.8 675.3 387.1 673.8 387.7 673.3 388.7 673.3 389.6 672.3 390.1 673.3 390.6 673.6 390.8 675.4 390.6 676.6 391.2 677.1 391.2 675.4 391.9 674.9 391.7 674.4 392.1 672.9 392.5 671.4 392.5 671.1 392.5 669.4 393.1 670.9 393.1 671.5 393.5 672 394.3 672.6 394.4 674.2 394.3 675 394.5 676.1 394.9 677.3 395.2 678 395.4 679.4 395.5 681 396.1 681.7 396 683.4 396.3 683.8 397.1 684.1 397.1 685.8 397.6 686.2 398 687.4 399.1 688 399.2 689.6 399.2 691.1 399.9 691.7 399.7 692.8 400.2 693.6 400.6 695.5 400.9 695.9 401.2 696.3 401.4 698.5 401.4 698.9 401.5 699.5 402.1 701.2 402.3 701.7 402.3 703.7 402.9 704.3 402.7 705.5 403.3 706.9 403.3 707.1 404 708.7 403.8 709.2 403.9 710.6 404.6 711.4 404.8 712.6 405 713.2 405 714.6 405 716 405.4 716.7 405.5 717.8 405.6 718.4 405.9 719.6 406.2 720.7 405.8 722 405.9 722.8 406 724.3 406.3 725.1 406.3 726.4 406.9 727.3 406.9 728.1 407.1 728.7 408 729.8 408 730.6 409 731.8 409.6 732.4 409.8 733.8 409.8 734.9 410.2 735.3 410.4 736.9 410.9 737.4 411.1 738.7 411.5 740.1 411.5 741.3 412.2 741.8 411.9 742.7 412.7 743.7 412.7 745.4 413.2 746.5 412.9 747.7 413.4 748.4 413.6 749.2 413.2 750.5 413.8 751.5 414.2 752.2 414.1 754.4 414.4 755.4 414.2 755.9 414.6 756.9 415.2 758.6 415 758.9 415.5 759.5 415.6 761.6 416 761.9 416 763.6 416.5 764 416.9 764.7 417.2 766.1 417 767.4 417.5 768.5 417.6 768.8 418.3 770.2 418.6 771.9 418.9 772.2 419 773.8 419.4 773.9 419.5 775.1 420.1 776.5 420.4 777.5" fill="none" stroke="#3b6e3c" stroke-width="1.7" stroke-linejoin="round"/>
</g>
<rect x="296.3" y="651.3" width="124.6" height="126" fill="none" stroke="#000" stroke-width="1.4"/>
<path d="M293 668.8H296M293 687.2H296M293 705.2H296M293 723.2H296M293 741.5H296M293 759.9H296M296.3 777.5V780.5M337.5 777.5V780.5M379.3 777.5V780.5M420.9 777.5V780.5" stroke="#222" stroke-width="0.8"/>
<g class="t" font-size="7.5" text-anchor="middle">
<text x="306.5" y="793">10<tspan font-size="5.5" dy="-3">0</tspan></text>
<text x="338.8" y="793">10<tspan font-size="5.5" dy="-3">1</tspan></text>
<text x="379.9" y="793">10<tspan font-size="5.5" dy="-3">2</tspan></text>
<text x="420.2" y="793">10<tspan font-size="5.5" dy="-3">3</tspan></text>
</g>
<text class="t r" x="356" y="805.6" font-size="10.4" text-anchor="middle" textLength="45.8" lengthAdjust="spacingAndGlyphs">CD11b-PE</text>
<text class="t r" font-size="10.4" text-anchor="middle" transform="translate(287.6 708) rotate(-90)" textLength="31.7" lengthAdjust="spacingAndGlyphs">Counts</text>
<rect x="432.3" y="665.4" width="7.6" height="7.6" fill="#d2d2d2" stroke="#222" stroke-width="0.9"/>
<text class="t r" x="444.4" y="672.8" font-size="10.7" textLength="46" lengthAdjust="spacingAndGlyphs">Unmarked</text>
<rect x="432.3" y="689.2" width="7.6" height="7.6" fill="#000" stroke="#222" stroke-width="0.9"/>
<text class="t r" x="444.4" y="696" font-size="10.7" textLength="62.6" lengthAdjust="spacingAndGlyphs">Isotype IgG2b</text>
<rect x="432.3" y="712.4" width="7.6" height="7.6" fill="#4d8c45" stroke="#222" stroke-width="0.9"/>
<text class="t r" x="444.4" y="719.3" font-size="10.7" textLength="63.5" lengthAdjust="spacingAndGlyphs">pEGP-Control</text>
<rect x="432.3" y="735.6" width="7.6" height="7.6" fill="#d01c1c" stroke="#222" stroke-width="0.9"/>
<text class="t r" x="444.4" y="742.7" font-size="10.7" textLength="76" lengthAdjust="spacingAndGlyphs">pEGP-miR-130a</text>
</g>
</svg>
</body></html>
